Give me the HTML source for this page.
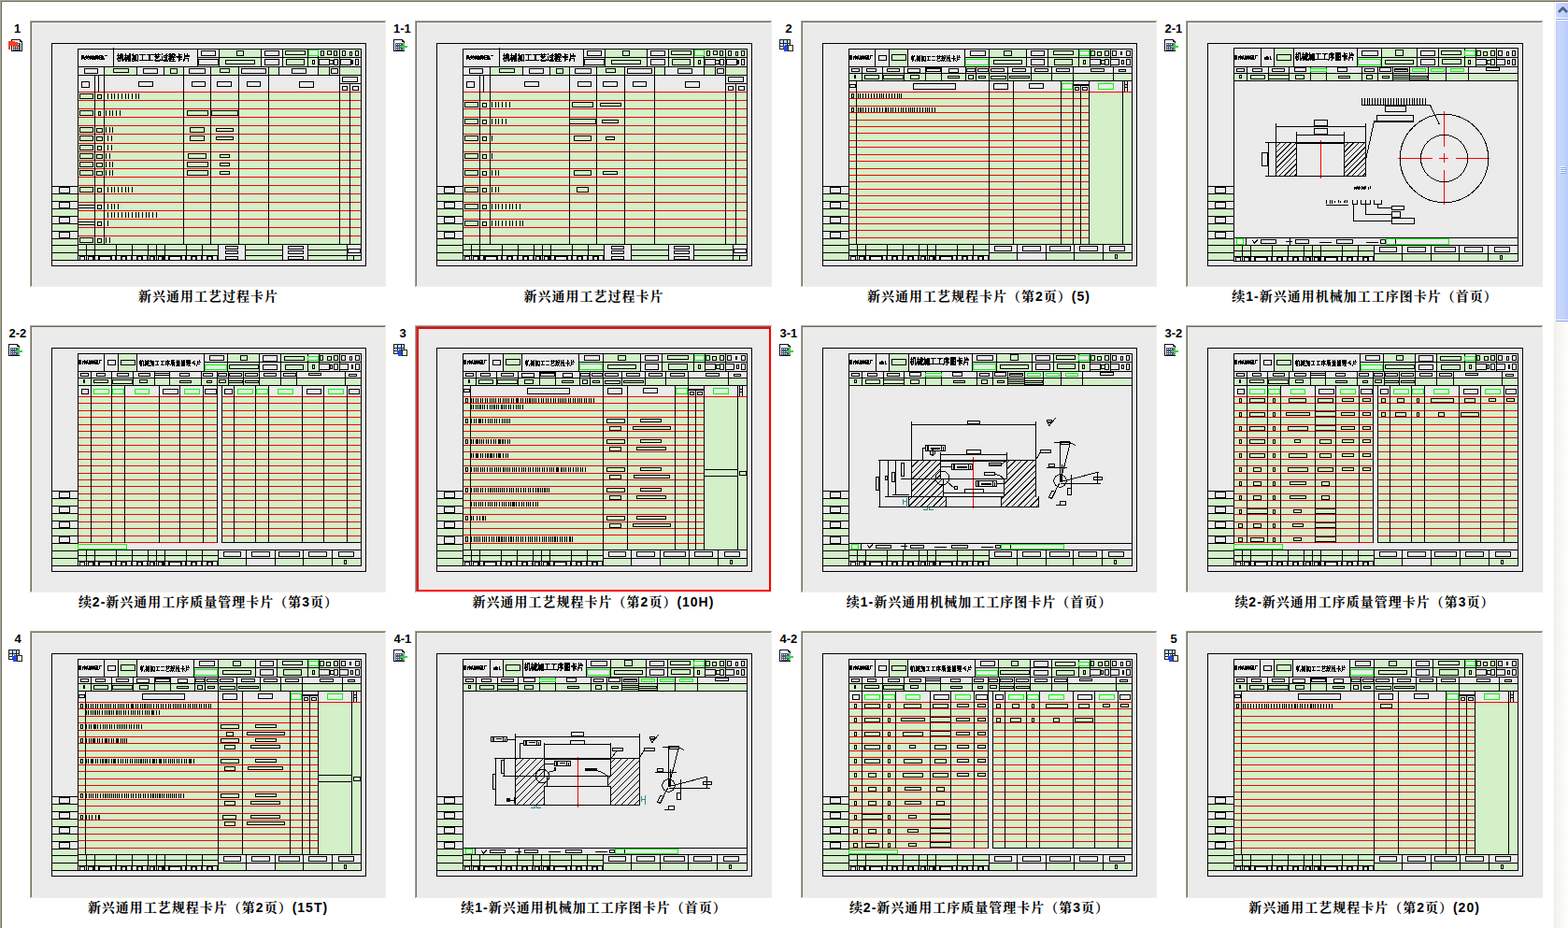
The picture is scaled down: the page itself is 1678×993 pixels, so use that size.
<!DOCTYPE html>
<html><head><meta charset="utf-8"><title>CAPP</title>
<style>
html,body{margin:0;padding:0;background:#fff;overflow:hidden}
svg{display:block}
text{font-family:"Liberation Sans","Noto Serif CJK SC","Noto Sans CJK SC",sans-serif;font-weight:bold;fill:#000;stroke:none}
.lb{font-size:13px;text-anchor:start}
.ca{font-size:14px;letter-spacing:1px;text-anchor:middle}
</style></head><body>
<svg width="1678" height="993" viewBox="0 0 1678 993">
<rect width="1678" height="993" fill="#fff"/>
<rect x="0" y="0" width="1678" height="1" fill="#aca899"/><rect x="0" y="1" width="1678" height="1" fill="#716f64"/>
<rect x="0" y="0" width="1" height="993" fill="#aca899"/><rect x="1" y="1" width="1" height="992" fill="#716f64"/>
<defs><linearGradient id="trk" x1="0" x2="1" y1="0" y2="0"><stop offset="0" stop-color="#f3f1ec"/><stop offset="1" stop-color="#fefefb"/></linearGradient><linearGradient id="thm" x1="0" x2="1" y1="0" y2="0"><stop offset="0" stop-color="#c9d7fb"/><stop offset="0.6" stop-color="#c4d3fb"/><stop offset="1" stop-color="#b3c9fa"/></linearGradient></defs><rect x="1663" y="2" width="15" height="991" fill="url(#trk)"/><rect x="1663" y="2" width="1" height="991" fill="#eeede5"/><rect x="1664" y="2" width="14" height="18" fill="#fff"/><rect x="1665" y="3" width="14" height="16" rx="2" fill="url(#thm)"/><rect x="1665" y="20" width="13" height="1" fill="#7b9fe0"/><path d="M1668 13l4.5 -4.5l4.5 4.5" fill="none" stroke="#4d6185" stroke-width="2.6"/><rect x="1664" y="21" width="14" height="322" fill="#fff"/><rect x="1665" y="22" width="14" height="320" rx="2" fill="url(#thm)"/><rect x="1665" y="22" width="1" height="320" fill="#b7c8f5"/><rect x="1665" y="343" width="13" height="1" fill="#7b9fe0"/><rect x="1669" y="178" width="6" height="1" fill="#f0f5ff"/><rect x="1670" y="179" width="6" height="1" fill="#8caaee"/><rect x="1669" y="180" width="6" height="1" fill="#f0f5ff"/><rect x="1670" y="181" width="6" height="1" fill="#8caaee"/><rect x="1669" y="182" width="6" height="1" fill="#f0f5ff"/><rect x="1670" y="183" width="6" height="1" fill="#8caaee"/><rect x="1669" y="184" width="6" height="1" fill="#f0f5ff"/><rect x="1670" y="185" width="6" height="1" fill="#8caaee"/>
<g shape-rendering="crispEdges">
<path fill="#aca899" d="M32 22h381v1h-381zM32 22h1v285h-1z"/>
<path fill="#716f64" d="M33 23h379v1h-379zM33 23h1v283h-1z"/>
<path fill="#f1efe2" d="M33 306h380v1h-380zM412 23h1v284h-1z"/>
<path fill="#ebebeb" d="M34 24h378v282h-378zM56 200h27v7h-27z"/>
<path fill="#d3f0c9" d="M56 208h27v7h-27z"/>
<path fill="#ebebeb" d="M56 216h27v7h-27z"/>
<path fill="#d3f0c9" d="M56 224h27v7h-27z"/>
<path fill="#ebebeb" d="M56 232h27v7h-27z"/>
<path fill="#d3f0c9" d="M56 240h27v7h-27z"/>
<path fill="#ebebeb" d="M56 248h27v7h-27z"/>
<path fill="#d3f0c9" d="M56 256h27v6h-27zM56 263h27v7h-27zM56 271h27v7h-27zM235 53h44v18h-44zM303 53h26v18h-26zM330 62h10v9h-10zM341 53h22v8h-22zM364 53h22v8h-22z"/>
<path fill="#ebebeb" d="M344 55h2v4h-2zM358 55h2v4h-2zM367 55h2v4h-2zM381 55h2v4h-2z"/>
<path fill="#d3f0c9" d="M353 65h3v3h-3zM112 72h34v8h-34zM176 72h20v8h-20zM226 72h29v8h-29zM288 72h10v8h-10zM341 72h11v8h-11zM364 72h22v8h-22zM84 99h302v162h-302zM84 262h302v16h-302z"/>
<path fill="#ebebeb" d="M234 262h28v16h-28zM303 262h26v16h-26zM372 262h14v11h-14z"/>
<path fill="#000000" d="M375 64h3v5h-3zM84 274h149v4h-149z"/>
<path fill="#f1f1f1" d="M84 274h1v4h-1zM91 274h1v4h-1zM93 274h1v4h-1zM102 274h3v4h-3zM120 274h3v4h-3zM125 274h4v4h-4zM136 274h4v4h-4zM142 274h4v4h-4zM153 274h4v4h-4zM159 274h1v4h-1zM166 274h1v4h-1zM168 274h1v4h-1zM177 274h3v4h-3zM195 274h3v4h-3zM200 274h4v4h-4zM211 274h4v4h-4zM217 274h4v4h-4zM228 274h4v4h-4zM86 275h4v3h-4zM95 275h4v3h-4zM107 275h11v3h-11zM131 275h3v3h-3zM148 275h3v3h-3zM161 275h3v3h-3zM170 275h3v3h-3zM182 275h11v3h-11zM206 275h3v3h-3zM223 275h3v3h-3z"/>
<path fill="#aca899" d="M444 22h382v1h-382zM444 22h1v285h-1z"/>
<path fill="#716f64" d="M445 23h380v1h-380zM445 23h1v283h-1z"/>
<path fill="#f1efe2" d="M445 306h381v1h-381zM825 23h1v284h-1z"/>
<path fill="#ebebeb" d="M446 24h379v282h-379zM468 200h27v7h-27z"/>
<path fill="#d3f0c9" d="M468 208h27v7h-27z"/>
<path fill="#ebebeb" d="M468 216h27v7h-27z"/>
<path fill="#d3f0c9" d="M468 224h27v7h-27z"/>
<path fill="#ebebeb" d="M468 232h27v7h-27z"/>
<path fill="#d3f0c9" d="M468 240h27v7h-27z"/>
<path fill="#ebebeb" d="M468 248h27v7h-27z"/>
<path fill="#d3f0c9" d="M468 256h27v6h-27zM468 263h27v7h-27zM468 271h27v7h-27zM648 53h44v18h-44zM716 53h26v18h-26zM743 62h10v9h-10zM754 53h22v8h-22zM777 53h22v8h-22z"/>
<path fill="#ebebeb" d="M757 55h2v4h-2zM771 55h2v4h-2zM780 55h2v4h-2zM794 55h2v4h-2z"/>
<path fill="#d3f0c9" d="M766 65h3v3h-3zM525 72h34v8h-34zM589 72h20v8h-20zM639 72h29v8h-29zM701 72h10v8h-10zM754 72h11v8h-11zM777 72h22v8h-22zM496 99h303v162h-303zM496 262h303v16h-303z"/>
<path fill="#ebebeb" d="M647 262h28v16h-28zM716 262h26v16h-26zM785 262h14v11h-14z"/>
<path fill="#000000" d="M788 64h3v5h-3zM496 274h150v4h-150z"/>
<path fill="#f1f1f1" d="M496 274h1v4h-1zM503 274h1v4h-1zM505 274h1v4h-1zM514 274h3v4h-3zM533 274h3v4h-3zM538 274h4v4h-4zM549 274h4v4h-4zM555 274h4v4h-4zM566 274h4v4h-4zM572 274h1v4h-1zM579 274h1v4h-1zM581 274h1v4h-1zM590 274h3v4h-3zM608 274h3v4h-3zM613 274h4v4h-4zM624 274h4v4h-4zM630 274h4v4h-4zM641 274h4v4h-4zM498 275h4v3h-4zM507 275h4v3h-4zM520 275h11v3h-11zM544 275h3v3h-3zM561 275h3v3h-3zM574 275h3v3h-3zM583 275h3v3h-3zM595 275h11v3h-11zM619 275h3v3h-3zM636 275h3v3h-3z"/>
<path fill="#aca899" d="M857 22h381v1h-381zM857 22h1v285h-1z"/>
<path fill="#716f64" d="M858 23h379v1h-379zM858 23h1v283h-1z"/>
<path fill="#f1efe2" d="M858 306h380v1h-380zM1237 23h1v284h-1z"/>
<path fill="#ebebeb" d="M859 24h378v282h-378zM881 200h27v7h-27z"/>
<path fill="#d3f0c9" d="M881 208h27v7h-27z"/>
<path fill="#ebebeb" d="M881 216h27v7h-27z"/>
<path fill="#d3f0c9" d="M881 224h27v7h-27z"/>
<path fill="#ebebeb" d="M881 232h27v7h-27z"/>
<path fill="#d3f0c9" d="M881 240h27v7h-27z"/>
<path fill="#ebebeb" d="M881 248h27v7h-27z"/>
<path fill="#d3f0c9" d="M881 256h27v6h-27zM881 263h27v7h-27zM881 271h27v7h-27zM952 53h19v18h-19zM1059 53h39v18h-39zM1122 53h32v18h-32zM1155 62h11v9h-11zM1167 53h21v8h-21zM1178 62h5v9h-5zM909 79h302v7h-302zM909 99h302v162h-302zM909 262h149v11h-149zM1059 271h152v7h-152z"/>
<path fill="#ebebeb" d="M1089 271h30v7h-30z"/>
<path fill="#000000" d="M1149 90h16v2h-16zM909 274h149v4h-149z"/>
<path fill="#f1f1f1" d="M909 274h1v4h-1zM916 274h1v4h-1zM918 274h1v4h-1zM927 274h3v4h-3zM945 274h3v4h-3zM950 274h4v4h-4zM961 274h4v4h-4zM967 274h4v4h-4zM978 274h4v4h-4zM984 274h1v4h-1zM991 274h1v4h-1zM993 274h1v4h-1zM1002 274h3v4h-3zM1020 274h3v4h-3zM1025 274h4v4h-4zM1036 274h4v4h-4zM1042 274h4v4h-4zM1053 274h4v4h-4zM911 275h4v3h-4zM920 275h4v3h-4zM932 275h11v3h-11zM956 275h3v3h-3zM973 275h3v3h-3zM986 275h3v3h-3zM995 275h3v3h-3zM1007 275h11v3h-11zM1031 275h3v3h-3zM1048 275h3v3h-3z"/>
<path fill="#aca899" d="M1269 22h382v1h-382zM1269 22h1v285h-1z"/>
<path fill="#716f64" d="M1270 23h380v1h-380zM1270 23h1v283h-1z"/>
<path fill="#f1efe2" d="M1270 306h381v1h-381zM1650 23h1v284h-1z"/>
<path fill="#ebebeb" d="M1271 24h379v282h-379zM1293 200h27v7h-27z"/>
<path fill="#d3f0c9" d="M1293 208h27v7h-27z"/>
<path fill="#ebebeb" d="M1293 216h27v7h-27z"/>
<path fill="#d3f0c9" d="M1293 224h27v7h-27z"/>
<path fill="#ebebeb" d="M1293 232h27v7h-27z"/>
<path fill="#d3f0c9" d="M1293 240h27v7h-27z"/>
<path fill="#ebebeb" d="M1293 248h27v7h-27z"/>
<path fill="#d3f0c9" d="M1293 256h27v6h-27zM1293 263h27v7h-27zM1293 271h27v7h-27zM1364 52h20v19h-20zM1479 52h37v19h-37zM1540 52h27v19h-27zM1568 62h11v9h-11zM1580 52h21v9h-21zM1591 62h5v9h-5zM1321 79h303v7h-303zM1321 263h149v11h-149zM1471 272h152v7h-152z"/>
<path fill="#000000" d="M1321 275h149v4h-149z"/>
<path fill="#f1f1f1" d="M1321 275h1v4h-1zM1328 275h1v4h-1zM1330 275h1v4h-1zM1339 275h3v4h-3zM1357 275h3v4h-3zM1362 275h4v4h-4zM1373 275h4v4h-4zM1379 275h4v4h-4zM1390 275h4v4h-4zM1396 275h1v4h-1zM1403 275h1v4h-1zM1405 275h1v4h-1zM1414 275h3v4h-3zM1432 275h3v4h-3zM1437 275h4v4h-4zM1448 275h4v4h-4zM1454 275h4v4h-4zM1465 275h4v4h-4zM1323 276h4v3h-4zM1332 276h4v3h-4zM1344 276h11v3h-11zM1368 276h3v3h-3zM1385 276h3v3h-3zM1398 276h3v3h-3zM1407 276h3v3h-3zM1419 276h11v3h-11zM1443 276h3v3h-3zM1460 276h3v3h-3z"/>
<path fill="#aca899" d="M32 348h381v1h-381zM32 348h1v286h-1z"/>
<path fill="#716f64" d="M33 349h379v1h-379zM33 349h1v284h-1z"/>
<path fill="#f1efe2" d="M33 633h380v1h-380zM412 349h1v285h-1z"/>
<path fill="#ebebeb" d="M34 350h378v283h-378zM56 526h27v7h-27z"/>
<path fill="#d3f0c9" d="M56 534h27v7h-27z"/>
<path fill="#ebebeb" d="M56 542h27v7h-27z"/>
<path fill="#d3f0c9" d="M56 550h27v7h-27z"/>
<path fill="#ebebeb" d="M56 558h27v7h-27z"/>
<path fill="#d3f0c9" d="M56 566h27v7h-27z"/>
<path fill="#ebebeb" d="M56 574h27v7h-27z"/>
<path fill="#d3f0c9" d="M56 582h27v7h-27zM56 590h27v7h-27zM56 598h27v7h-27zM127 379h19v18h-19zM244 379h33v18h-33zM301 379h28v18h-28zM330 388h11v9h-11zM342 379h21v8h-21zM84 405h302v7h-302zM84 425h148v155h-148zM238 425h148v155h-148z"/>
<path fill="#f6f6f6" d="M233 413h4v167h-4z"/>
<path fill="#d3f0c9" d="M84 589h149v11h-149zM234 598h152v7h-152z"/>
<path fill="#ebebeb" d="M264 598h30v7h-30z"/>
<path fill="#000000" d="M84 601h149v4h-149z"/>
<path fill="#f1f1f1" d="M84 601h1v4h-1zM91 601h1v4h-1zM93 601h1v4h-1zM102 601h3v4h-3zM120 601h3v4h-3zM125 601h4v4h-4zM136 601h4v4h-4zM142 601h4v4h-4zM153 601h4v4h-4zM159 601h1v4h-1zM166 601h1v4h-1zM168 601h1v4h-1zM177 601h3v4h-3zM195 601h3v4h-3zM200 601h4v4h-4zM211 601h4v4h-4zM217 601h4v4h-4zM228 601h4v4h-4zM86 602h4v3h-4zM95 602h4v3h-4zM107 602h11v3h-11zM131 602h3v3h-3zM148 602h3v3h-3zM161 602h3v3h-3zM170 602h3v3h-3zM182 602h11v3h-11zM206 602h3v3h-3zM223 602h3v3h-3z"/>
<path fill="#aca899" d="M444 348h382v1h-382zM444 348h1v286h-1z"/>
<path fill="#716f64" d="M445 349h380v1h-380zM445 349h1v284h-1z"/>
<path fill="#f1efe2" d="M445 633h381v1h-381zM825 349h1v285h-1z"/>
<path fill="#ebebeb" d="M446 350h379v283h-379z"/>
<path fill="#ff0000" d="M446 350h379v2h-379zM446 631h379v2h-379zM446 350h2v283h-2zM823 350h2v283h-2z"/>
<path fill="#ebebeb" d="M468 526h27v7h-27z"/>
<path fill="#d3f0c9" d="M468 534h27v7h-27z"/>
<path fill="#ebebeb" d="M468 542h27v7h-27z"/>
<path fill="#d3f0c9" d="M468 550h27v7h-27z"/>
<path fill="#ebebeb" d="M468 558h27v7h-27z"/>
<path fill="#d3f0c9" d="M468 566h27v7h-27z"/>
<path fill="#ebebeb" d="M468 574h27v8h-27z"/>
<path fill="#d3f0c9" d="M468 583h27v6h-27zM468 590h27v7h-27zM468 598h27v7h-27zM539 379h19v18h-19zM646 379h39v18h-39zM709 379h33v18h-33zM743 388h11v9h-11zM755 379h21v8h-21zM766 388h5v9h-5zM496 405h303v7h-303zM496 425h303v163h-303zM496 589h149v11h-149zM646 598h153v7h-153z"/>
<path fill="#ebebeb" d="M676 598h30v7h-30z"/>
<path fill="#000000" d="M737 416h16v2h-16zM496 601h149v4h-149z"/>
<path fill="#f1f1f1" d="M496 601h1v4h-1zM503 601h1v4h-1zM505 601h1v4h-1zM514 601h3v4h-3zM532 601h3v4h-3zM537 601h4v4h-4zM548 601h4v4h-4zM554 601h4v4h-4zM565 601h4v4h-4zM571 601h1v4h-1zM578 601h1v4h-1zM580 601h1v4h-1zM589 601h3v4h-3zM607 601h3v4h-3zM612 601h4v4h-4zM623 601h4v4h-4zM629 601h4v4h-4zM640 601h4v4h-4zM498 602h4v3h-4zM507 602h4v3h-4zM519 602h11v3h-11zM543 602h3v3h-3zM560 602h3v3h-3zM573 602h3v3h-3zM582 602h3v3h-3zM594 602h11v3h-11zM618 602h3v3h-3zM635 602h3v3h-3z"/>
<path fill="#aca899" d="M857 348h381v1h-381zM857 348h1v286h-1z"/>
<path fill="#716f64" d="M858 349h379v1h-379zM858 349h1v284h-1z"/>
<path fill="#f1efe2" d="M858 633h380v1h-380zM1237 349h1v285h-1z"/>
<path fill="#ebebeb" d="M859 350h378v283h-378zM881 526h27v7h-27z"/>
<path fill="#d3f0c9" d="M881 534h27v7h-27z"/>
<path fill="#ebebeb" d="M881 542h27v7h-27z"/>
<path fill="#d3f0c9" d="M881 550h27v7h-27z"/>
<path fill="#ebebeb" d="M881 558h27v7h-27z"/>
<path fill="#d3f0c9" d="M881 566h27v7h-27z"/>
<path fill="#ebebeb" d="M881 574h27v8h-27z"/>
<path fill="#d3f0c9" d="M881 583h27v6h-27zM881 590h27v7h-27zM881 598h27v7h-27zM952 379h20v18h-20zM1067 379h37v18h-37zM1128 379h26v18h-26zM1155 388h11v9h-11zM1167 379h21v8h-21zM1178 388h5v9h-5zM909 405h302v7h-302zM909 589h149v11h-149zM1059 598h151v7h-151z"/>
<path fill="#000000" d="M909 601h149v4h-149z"/>
<path fill="#f1f1f1" d="M909 601h1v4h-1zM916 601h1v4h-1zM918 601h1v4h-1zM927 601h3v4h-3zM945 601h3v4h-3zM950 601h4v4h-4zM961 601h4v4h-4zM967 601h4v4h-4zM978 601h4v4h-4zM984 601h1v4h-1zM991 601h1v4h-1zM993 601h1v4h-1zM1002 601h3v4h-3zM1020 601h3v4h-3zM1025 601h4v4h-4zM1036 601h4v4h-4zM1042 601h4v4h-4zM1053 601h4v4h-4zM911 602h4v3h-4zM920 602h4v3h-4zM932 602h11v3h-11zM956 602h3v3h-3zM973 602h3v3h-3zM986 602h3v3h-3zM995 602h3v3h-3zM1007 602h11v3h-11zM1031 602h3v3h-3zM1048 602h3v3h-3z"/>
<path fill="#aca899" d="M1269 348h382v1h-382zM1269 348h1v286h-1z"/>
<path fill="#716f64" d="M1270 349h380v1h-380zM1270 349h1v284h-1z"/>
<path fill="#f1efe2" d="M1270 633h381v1h-381zM1650 349h1v285h-1z"/>
<path fill="#ebebeb" d="M1271 350h379v283h-379zM1293 526h27v7h-27z"/>
<path fill="#d3f0c9" d="M1293 534h27v7h-27z"/>
<path fill="#ebebeb" d="M1293 542h27v7h-27z"/>
<path fill="#d3f0c9" d="M1293 550h27v7h-27z"/>
<path fill="#ebebeb" d="M1293 558h27v7h-27z"/>
<path fill="#d3f0c9" d="M1293 566h27v7h-27z"/>
<path fill="#ebebeb" d="M1293 574h27v7h-27z"/>
<path fill="#d3f0c9" d="M1293 582h27v7h-27zM1293 590h27v7h-27zM1293 598h27v7h-27zM1364 379h19v18h-19zM1481 379h33v18h-33zM1538 379h29v18h-29zM1568 388h11v9h-11zM1580 379h21v8h-21zM1321 405h303v7h-303zM1321 425h148v155h-148zM1475 425h149v155h-149z"/>
<path fill="#f6f6f6" d="M1470 413h4v167h-4z"/>
<path fill="#d3f0c9" d="M1321 589h149v11h-149zM1471 598h153v7h-153z"/>
<path fill="#ebebeb" d="M1501 598h30v7h-30z"/>
<path fill="#000000" d="M1321 601h149v4h-149z"/>
<path fill="#f1f1f1" d="M1321 601h1v4h-1zM1328 601h1v4h-1zM1330 601h1v4h-1zM1339 601h3v4h-3zM1357 601h3v4h-3zM1362 601h4v4h-4zM1373 601h4v4h-4zM1379 601h4v4h-4zM1390 601h4v4h-4zM1396 601h1v4h-1zM1403 601h1v4h-1zM1405 601h1v4h-1zM1414 601h3v4h-3zM1432 601h3v4h-3zM1437 601h4v4h-4zM1448 601h4v4h-4zM1454 601h4v4h-4zM1465 601h4v4h-4zM1323 602h4v3h-4zM1332 602h4v3h-4zM1344 602h11v3h-11zM1368 602h3v3h-3zM1385 602h3v3h-3zM1398 602h3v3h-3zM1407 602h3v3h-3zM1419 602h11v3h-11zM1443 602h3v3h-3zM1460 602h3v3h-3z"/>
<path fill="#aca899" d="M32 675h381v1h-381zM32 675h1v286h-1z"/>
<path fill="#716f64" d="M33 676h379v1h-379zM33 676h1v284h-1z"/>
<path fill="#f1efe2" d="M33 960h380v1h-380zM412 676h1v285h-1z"/>
<path fill="#ebebeb" d="M34 677h378v283h-378zM56 853h27v7h-27z"/>
<path fill="#d3f0c9" d="M56 861h27v7h-27z"/>
<path fill="#ebebeb" d="M56 869h27v7h-27z"/>
<path fill="#d3f0c9" d="M56 877h27v7h-27z"/>
<path fill="#ebebeb" d="M56 885h27v7h-27z"/>
<path fill="#d3f0c9" d="M56 893h27v7h-27z"/>
<path fill="#ebebeb" d="M56 901h27v7h-27z"/>
<path fill="#d3f0c9" d="M56 909h27v6h-27zM56 916h27v7h-27zM56 924h27v7h-27zM127 706h19v18h-19zM234 706h39v18h-39zM297 706h32v18h-32zM330 715h11v9h-11zM342 706h21v8h-21zM353 715h5v9h-5zM84 732h302v7h-302zM84 752h302v162h-302zM84 915h149v11h-149zM234 924h152v7h-152z"/>
<path fill="#ebebeb" d="M264 924h30v7h-30z"/>
<path fill="#000000" d="M324 743h16v2h-16zM84 927h149v4h-149z"/>
<path fill="#f1f1f1" d="M84 927h1v4h-1zM91 927h1v4h-1zM93 927h1v4h-1zM102 927h3v4h-3zM120 927h3v4h-3zM125 927h4v4h-4zM136 927h4v4h-4zM142 927h4v4h-4zM153 927h4v4h-4zM159 927h1v4h-1zM166 927h1v4h-1zM168 927h1v4h-1zM177 927h3v4h-3zM195 927h3v4h-3zM200 927h4v4h-4zM211 927h4v4h-4zM217 927h4v4h-4zM228 927h4v4h-4zM86 928h4v3h-4zM95 928h4v3h-4zM107 928h11v3h-11zM131 928h3v3h-3zM148 928h3v3h-3zM161 928h3v3h-3zM170 928h3v3h-3zM182 928h11v3h-11zM206 928h3v3h-3zM223 928h3v3h-3z"/>
<path fill="#aca899" d="M444 675h382v1h-382zM444 675h1v286h-1z"/>
<path fill="#716f64" d="M445 676h380v1h-380zM445 676h1v284h-1z"/>
<path fill="#f1efe2" d="M445 960h381v1h-381zM825 676h1v285h-1z"/>
<path fill="#ebebeb" d="M446 677h379v283h-379zM468 853h27v7h-27z"/>
<path fill="#d3f0c9" d="M468 861h27v7h-27z"/>
<path fill="#ebebeb" d="M468 869h27v7h-27z"/>
<path fill="#d3f0c9" d="M468 877h27v7h-27z"/>
<path fill="#ebebeb" d="M468 885h27v7h-27z"/>
<path fill="#d3f0c9" d="M468 893h27v7h-27z"/>
<path fill="#ebebeb" d="M468 901h27v7h-27z"/>
<path fill="#d3f0c9" d="M468 909h27v6h-27zM468 916h27v7h-27zM468 924h27v7h-27zM539 706h20v18h-20zM654 706h37v18h-37zM715 706h27v18h-27zM743 715h11v9h-11zM755 706h21v8h-21zM766 715h5v9h-5zM496 732h303v7h-303zM496 915h149v11h-149zM646 924h152v7h-152z"/>
<path fill="#000000" d="M496 927h149v4h-149z"/>
<path fill="#f1f1f1" d="M496 927h1v4h-1zM503 927h1v4h-1zM505 927h1v4h-1zM514 927h3v4h-3zM532 927h3v4h-3zM537 927h4v4h-4zM548 927h4v4h-4zM554 927h4v4h-4zM565 927h4v4h-4zM571 927h1v4h-1zM578 927h1v4h-1zM580 927h1v4h-1zM589 927h3v4h-3zM607 927h3v4h-3zM612 927h4v4h-4zM623 927h4v4h-4zM629 927h4v4h-4zM640 927h4v4h-4zM498 928h4v3h-4zM507 928h4v3h-4zM519 928h11v3h-11zM543 928h3v3h-3zM560 928h3v3h-3zM573 928h3v3h-3zM582 928h3v3h-3zM594 928h11v3h-11zM618 928h3v3h-3zM635 928h3v3h-3z"/>
<path fill="#aca899" d="M857 675h381v1h-381zM857 675h1v286h-1z"/>
<path fill="#716f64" d="M858 676h379v1h-379zM858 676h1v284h-1z"/>
<path fill="#f1efe2" d="M858 960h380v1h-380zM1237 676h1v285h-1z"/>
<path fill="#ebebeb" d="M859 677h378v283h-378zM881 853h27v7h-27z"/>
<path fill="#d3f0c9" d="M881 861h27v7h-27z"/>
<path fill="#ebebeb" d="M881 869h27v7h-27z"/>
<path fill="#d3f0c9" d="M881 877h27v7h-27z"/>
<path fill="#ebebeb" d="M881 885h27v7h-27z"/>
<path fill="#d3f0c9" d="M881 893h27v7h-27z"/>
<path fill="#ebebeb" d="M881 901h27v7h-27z"/>
<path fill="#d3f0c9" d="M881 909h27v6h-27zM881 916h27v7h-27zM881 924h27v7h-27zM952 706h19v18h-19zM1069 706h33v18h-33zM1126 706h28v18h-28zM1155 715h11v9h-11zM1167 706h21v8h-21zM909 732h302v7h-302zM909 752h148v155h-148zM1063 752h148v155h-148z"/>
<path fill="#f6f6f6" d="M1058 740h4v167h-4z"/>
<path fill="#d3f0c9" d="M909 915h149v11h-149zM1059 924h152v7h-152z"/>
<path fill="#ebebeb" d="M1089 924h30v7h-30z"/>
<path fill="#000000" d="M909 927h149v4h-149z"/>
<path fill="#f1f1f1" d="M909 927h1v4h-1zM916 927h1v4h-1zM918 927h1v4h-1zM927 927h3v4h-3zM945 927h3v4h-3zM950 927h4v4h-4zM961 927h4v4h-4zM967 927h4v4h-4zM978 927h4v4h-4zM984 927h1v4h-1zM991 927h1v4h-1zM993 927h1v4h-1zM1002 927h3v4h-3zM1020 927h3v4h-3zM1025 927h4v4h-4zM1036 927h4v4h-4zM1042 927h4v4h-4zM1053 927h4v4h-4zM911 928h4v3h-4zM920 928h4v3h-4zM932 928h11v3h-11zM956 928h3v3h-3zM973 928h3v3h-3zM986 928h3v3h-3zM995 928h3v3h-3zM1007 928h11v3h-11zM1031 928h3v3h-3zM1048 928h3v3h-3z"/>
<path fill="#aca899" d="M1269 675h382v1h-382zM1269 675h1v286h-1z"/>
<path fill="#716f64" d="M1270 676h380v1h-380zM1270 676h1v284h-1z"/>
<path fill="#f1efe2" d="M1270 960h381v1h-381zM1650 676h1v285h-1z"/>
<path fill="#ebebeb" d="M1271 677h379v283h-379zM1293 853h27v7h-27z"/>
<path fill="#d3f0c9" d="M1293 861h27v7h-27z"/>
<path fill="#ebebeb" d="M1293 869h27v7h-27z"/>
<path fill="#d3f0c9" d="M1293 877h27v7h-27z"/>
<path fill="#ebebeb" d="M1293 885h27v7h-27z"/>
<path fill="#d3f0c9" d="M1293 893h27v7h-27z"/>
<path fill="#ebebeb" d="M1293 901h27v7h-27z"/>
<path fill="#d3f0c9" d="M1293 909h27v6h-27zM1293 916h27v7h-27zM1293 924h27v7h-27zM1364 706h19v18h-19zM1471 706h39v18h-39zM1534 706h33v18h-33zM1568 715h11v9h-11zM1580 706h21v8h-21zM1591 715h5v9h-5zM1321 732h303v7h-303zM1321 752h303v162h-303zM1321 915h149v11h-149zM1471 924h153v7h-153z"/>
<path fill="#ebebeb" d="M1501 924h30v7h-30z"/>
<path fill="#000000" d="M1562 743h16v2h-16zM1321 927h149v4h-149z"/>
<path fill="#f1f1f1" d="M1321 927h1v4h-1zM1328 927h1v4h-1zM1330 927h1v4h-1zM1339 927h3v4h-3zM1357 927h3v4h-3zM1362 927h4v4h-4zM1373 927h4v4h-4zM1379 927h4v4h-4zM1390 927h4v4h-4zM1396 927h1v4h-1zM1403 927h1v4h-1zM1405 927h1v4h-1zM1414 927h3v4h-3zM1432 927h3v4h-3zM1437 927h4v4h-4zM1448 927h4v4h-4zM1454 927h4v4h-4zM1465 927h4v4h-4zM1323 928h4v3h-4zM1332 928h4v3h-4zM1344 928h11v3h-11zM1368 928h3v3h-3zM1385 928h3v3h-3zM1398 928h3v3h-3zM1407 928h3v3h-3zM1419 928h11v3h-11zM1443 928h3v3h-3zM1460 928h3v3h-3z"/>
<path fill="none" stroke="#ff0000" stroke-width="1" d="M83 98.5h304M83 107.5h304M83 116.5h304M83 125.5h304M83 134.5h304M83 143.5h304M83 153.5h304M83 162.5h304M83 171.5h304M83 180.5h304M83 189.5h304M83 198.5h304M83 207.5h304M83 216.5h304M83 225.5h304M83 234.5h304M83 243.5h304M83 252.5h304M495 98.5h305M495 107.5h305M495 116.5h305M495 125.5h305M495 134.5h305M495 143.5h305M495 153.5h305M495 162.5h305M495 171.5h305M495 180.5h305M495 189.5h305M495 198.5h305M495 207.5h305M495 216.5h305M495 225.5h305M495 234.5h305M495 243.5h305M495 252.5h305M908 98.5h304M908 105.5h258M908 113.5h258M908 120.5h258M908 128.5h258M908 135.5h258M908 142.5h258M908 150.5h258M908 157.5h258M908 165.5h258M908 172.5h258M908 180.5h258M908 187.5h258M908 194.5h258M908 202.5h258M908 209.5h258M908 217.5h258M908 224.5h258M908 232.5h258M908 239.5h258M908 246.5h258M908 254.5h258M1413.5 150v41M1496 169.5h37M1540 169.5h10M1558 169.5h36M1545.5 119v38M1545.5 164v10M1545.5 182v37M83 424.5h150M237 424.5h150M83 431.5h150M237 431.5h150M83 439.5h150M237 439.5h150M83 446.5h150M237 446.5h150M83 454.5h150M237 454.5h150M83 461.5h150M237 461.5h150M83 468.5h150M237 468.5h150M83 476.5h150M237 476.5h150M83 483.5h150M237 483.5h150M83 491.5h150M237 491.5h150M83 498.5h150M237 498.5h150M83 506.5h150M237 506.5h150M83 513.5h150M237 513.5h150M83 520.5h150M237 520.5h150M83 528.5h150M237 528.5h150M83 535.5h150M237 535.5h150M83 543.5h150M237 543.5h150M83 550.5h150M237 550.5h150M83 558.5h150M237 558.5h150M83 565.5h150M237 565.5h150M83 573.5h150M237 573.5h150M83 580.5h150M495 424.5h305M495 431.5h259M495 439.5h259M495 446.5h259M495 454.5h259M495 461.5h259M495 468.5h259M495 476.5h259M495 483.5h259M495 491.5h259M495 498.5h259M495 506.5h259M495 513.5h259M495 520.5h259M495 528.5h259M495 535.5h259M495 543.5h259M495 550.5h259M495 558.5h259M495 565.5h259M495 572.5h259M495 581.5h259M1041.5 489v55M1320 424.5h150M1474 424.5h151M1320 431.5h150M1474 431.5h151M1320 439.5h150M1474 439.5h151M1320 446.5h150M1474 446.5h151M1320 454.5h150M1474 454.5h151M1320 461.5h150M1474 461.5h151M1320 468.5h150M1474 468.5h151M1320 476.5h150M1474 476.5h151M1320 483.5h150M1474 483.5h151M1320 491.5h150M1474 491.5h151M1320 498.5h150M1474 498.5h151M1320 506.5h150M1474 506.5h151M1320 513.5h150M1474 513.5h151M1320 520.5h150M1474 520.5h151M1320 528.5h150M1474 528.5h151M1320 535.5h150M1474 535.5h151M1320 543.5h150M1474 543.5h151M1320 550.5h150M1474 550.5h151M1320 558.5h150M1474 558.5h151M1320 565.5h150M1474 565.5h151M1320 573.5h150M1474 573.5h151M1320 580.5h150M83 751.5h304M83 758.5h258M83 766.5h258M83 773.5h258M83 781.5h258M83 788.5h258M83 795.5h258M83 803.5h258M83 810.5h258M83 818.5h258M83 825.5h258M83 833.5h258M83 840.5h258M83 847.5h258M83 855.5h258M83 862.5h258M83 870.5h258M83 877.5h258M83 885.5h258M83 892.5h258M83 899.5h258M83 907.5h258M618.5 810v54M908 751.5h150M1062 751.5h150M908 758.5h150M1062 758.5h150M908 766.5h150M1062 766.5h150M908 773.5h150M1062 773.5h150M908 781.5h150M1062 781.5h150M908 788.5h150M1062 788.5h150M908 795.5h150M1062 795.5h150M908 803.5h150M1062 803.5h150M908 810.5h150M1062 810.5h150M908 818.5h150M1062 818.5h150M908 825.5h150M1062 825.5h150M908 833.5h150M1062 833.5h150M908 840.5h150M1062 840.5h150M908 847.5h150M1062 847.5h150M908 855.5h150M1062 855.5h150M908 862.5h150M1062 862.5h150M908 870.5h150M1062 870.5h150M908 877.5h150M1062 877.5h150M908 885.5h150M1062 885.5h150M908 892.5h150M1062 892.5h150M908 900.5h150M1062 900.5h150M908 907.5h150M1320 751.5h305M1320 758.5h259M1320 766.5h259M1320 773.5h259M1320 781.5h259M1320 788.5h259M1320 795.5h259M1320 803.5h259M1320 810.5h259M1320 818.5h259M1320 825.5h259M1320 833.5h259M1320 840.5h259M1320 847.5h259M1320 855.5h259M1320 862.5h259M1320 870.5h259M1320 877.5h259M1320 885.5h259M1320 892.5h259M1320 899.5h259M1320 907.5h259"/>
<path fill="none" stroke="#000000" stroke-width="1" d="M55.5 46.5h336v238h-336zM63.5 200.5h11v6h-11zM63.5 216.5h11v6h-11zM63.5 232.5h11v6h-11zM63.5 248.5h11v6h-11zM55 199.5h29M55 207.5h29M55 215.5h29M55 223.5h29M55 231.5h29M55 239.5h29M55 247.5h29M55 255.5h29M55 262.5h29M55 270.5h29M55 278.5h29M83.5 52.5h303v226h-303zM121.5 51v21M83 71.5h304M83 80.5h304M83 261.5h304M211 61.5h176M211.5 52v20M234.5 52v20M279.5 52v20M302.5 52v20M329.5 52v20M340.5 52v20M363.5 52v20M111.5 71v10M146.5 71v10M175.5 71v10M196.5 71v10M225.5 71v10M255.5 71v10M287.5 71v10M298.5 71v10M340.5 71v10M352.5 71v10M363.5 71v10M101.5 80v182M111.5 80v182M196.5 80v182M225.5 80v182M255.5 80v182M287.5 80v182M363.5 80v182M105.5 80v19M363 89.5h24M374.5 89v173M87.5 87.5h8v6h-8zM148.5 87.5h15v5h-15zM205.5 87.5h14v5h-14zM232.5 87.5h15v5h-15zM264.5 87.5h14v5h-14zM320.5 87.5h15v6h-15zM366.5 82.5h16v5h-16zM366.5 92.5h5v4h-5zM377.5 92.5h6v4h-6zM90.5 73.5h14v5h-14zM121.5 73.5h16v4h-16zM153.5 73.5h15v5h-15zM182.5 73.5h7v5h-7zM202.5 73.5h17v5h-17zM235.5 73.5h10v4h-10zM258.5 73.5h26v5h-26zM312.5 73.5h15v5h-15zM354.5 73.5h7v5h-7zM215.5 54.5h15v5h-15zM212.5 63.5h21v6h-21zM253.5 54.5h7v5h-7zM241.5 64.5h31v4h-31zM283.5 54.5h15v5h-15zM283.5 63.5h15v6h-15zM305.5 54.5h21v4h-21zM306.5 63.5h19v6h-19zM334.5 64.5h2v4h-2zM343.5 54.5h3v5h-3zM350.5 54.5h4v4h-4zM357.5 54.5h3v5h-3zM341.5 63.5h11v6h-11zM357.5 63.5h4v6h-4zM352.5 64.5h4v4h-4zM366.5 54.5h3v5h-3zM374.5 55.5h2v4h-2zM380.5 54.5h3v5h-3zM364.5 63.5h11v6h-11zM380.5 63.5h3v6h-3zM87 59.5h3M92 59.5h1M94 59.5h1M97 59.5h1M99 59.5h1M102 59.5h3M106 59.5h4M112 59.5h3M87 60.5h3M91 60.5h16M108 60.5h3M87 61.5h24M87 62.5h4M92 62.5h2M95 62.5h12M108 62.5h4M87 63.5h1M90 63.5h2M94 63.5h1M96 63.5h1M98 63.5h5M104 63.5h1M106 63.5h6M126 57.5h1M129 57.5h2M134 57.5h1M138 57.5h2M142 57.5h1M166 57.5h1M169 57.5h1M173 57.5h1M178 57.5h1M181 57.5h2M184 57.5h3M191 57.5h1M197 57.5h1M200 57.5h1M126 58.5h1M128 58.5h4M134 58.5h1M138 58.5h2M141 58.5h2M145 58.5h3M149 58.5h7M157 58.5h15M173 58.5h1M177 58.5h2M180 58.5h8M191 58.5h4M197 58.5h1M200 58.5h1M125 59.5h7M133 59.5h7M141 59.5h5M147 59.5h1M152 59.5h1M159 59.5h2M166 59.5h2M169 59.5h1M175 59.5h5M181 59.5h4M186 59.5h2M191 59.5h2M197 59.5h6M126 60.5h1M128 60.5h4M134 60.5h1M136 60.5h4M142 60.5h4M147 60.5h1M152 60.5h1M159 60.5h2M165 60.5h6M173 60.5h1M175 60.5h1M177 60.5h2M180 60.5h7M188 60.5h7M197 60.5h6M126 61.5h6M133 61.5h7M142 61.5h4M147 61.5h1M152 61.5h1M159 61.5h2M166 61.5h4M173 61.5h1M175 61.5h4M181 61.5h7M189 61.5h6M197 61.5h1M125 62.5h7M133 62.5h7M141 62.5h5M147 62.5h1M152 62.5h1M159 62.5h2M167 62.5h2M173 62.5h1M177 62.5h2M180 62.5h4M185 62.5h1M191 62.5h2M197 62.5h5M125 63.5h2M128 63.5h1M130 63.5h10M141 63.5h5M147 63.5h1M152 63.5h1M159 63.5h2M166 63.5h1M171 63.5h1M173 63.5h1M176 63.5h3M180 63.5h7M191 63.5h4M196 63.5h2M201 63.5h1M126 64.5h1M128 64.5h1M130 64.5h3M134 64.5h2M137 64.5h3M141 64.5h1M143 64.5h5M149 64.5h15M165 64.5h15M181 64.5h2M185 64.5h1M191 64.5h2M196 64.5h2M201 64.5h1M126 65.5h3M131 65.5h1M134 65.5h2M137 65.5h3M141 65.5h3M145 65.5h1M147 65.5h1M166 65.5h5M175 65.5h5M181 65.5h7M191 65.5h1M196 65.5h1M201 65.5h1M85.5 100.5h14v5h-14zM104.5 101.5h4v4h-4zM115.5 100v6M119.5 100v6M122.5 100v6M126.5 100v6M130.5 100v6M134.5 100v6M137.5 100v6M141.5 100v6M145.5 100v6M148.5 100v6M85.5 118.5h14v5h-14zM105.5 119.5h2v4h-2zM113.5 118v6M117.5 118v6M120.5 118v6M124.5 118v6M128.5 118v6M200.5 118.5h22v5h-22zM226.5 118.5h28v5h-28zM85.5 136.5h14v5h-14zM103.5 137.5h6v4h-6zM113.5 136v6M117.5 136v6M120.5 136v6M203.5 136.5h15v5h-15zM231.5 137.5h18v3h-18zM85.5 145.5h14v5h-14zM103.5 146.5h6v4h-6zM115.5 145v6M119.5 145v6M203.5 145.5h15v5h-15zM231.5 146.5h18v3h-18zM85.5 155.5h14v5h-14zM104.5 156.5h4v4h-4zM115.5 155v6M119.5 155v6M85.5 164.5h14v5h-14zM103.5 165.5h6v4h-6zM113.5 164v6M117.5 164v6M201.5 164.5h19v5h-19zM235.5 165.5h10v3h-10zM85.5 173.5h14v5h-14zM103.5 174.5h6v4h-6zM113.5 173v6M117.5 173v6M120.5 173v6M200.5 173.5h22v5h-22zM235.5 174.5h10v3h-10zM85.5 182.5h14v5h-14zM103.5 183.5h6v4h-6zM113.5 182v6M117.5 182v6M120.5 182v6M200.5 182.5h22v5h-22zM235.5 183.5h10v3h-10zM85.5 200.5h14v5h-14zM104.5 201.5h4v4h-4zM115.5 200v6M119.5 200v6M122.5 200v6M126.5 200v6M130.5 200v6M134.5 200v6M137.5 200v6M141.5 200v6M83.5 219.5h18v3h-18zM104.5 219.5h4v4h-4zM115.5 218v6M119.5 218v6M122.5 218v6M126.5 218v6M115.5 227v6M119.5 227v6M122.5 227v6M126.5 227v6M130.5 227v6M134.5 227v6M137.5 227v6M141.5 227v6M145.5 227v6M148.5 227v6M152.5 227v6M156.5 227v6M159.5 227v6M163.5 227v6M167.5 227v6M83.5 237.5h18v3h-18zM104.5 237.5h4v4h-4zM115.5 236v6M85.5 254.5h14v5h-14zM104.5 255.5h4v4h-4zM113.5 254v6M117.5 254v6M92.5 261v18M101.5 261v18M124.5 261v18M141.5 261v18M158.5 261v18M167.5 261v18M176.5 261v18M199.5 261v18M216.5 261v18M233.5 261v18M83 267.5h151M83 273.5h151M262 267.5h41M262 273.5h41M329 267.5h43M329 273.5h43M233.5 261v18M262.5 261v18M302.5 261v18M329.5 261v18M371.5 261v18M241.5 263.5h13v3h-13zM241.5 268.5h13v3h-13zM241.5 274.5h13v3h-13zM308.5 263.5h16v3h-16zM308.5 268.5h16v3h-16zM308.5 274.5h16v3h-16zM372.5 266.5h13v4h-13zM371 273.5h16M378.5 274v4M467.5 46.5h337v238h-337zM475.5 200.5h11v6h-11zM475.5 216.5h11v6h-11zM475.5 232.5h11v6h-11zM475.5 248.5h11v6h-11zM467 199.5h29M467 207.5h29M467 215.5h29M467 223.5h29M467 231.5h29M467 239.5h29M467 247.5h29M467 255.5h29M467 262.5h29M467 270.5h29M467 278.5h29M495.5 52.5h304v226h-304zM534.5 51v21M495 71.5h305M495 80.5h305M495 261.5h305M624 61.5h176M624.5 52v20M647.5 52v20M692.5 52v20M715.5 52v20M742.5 52v20M753.5 52v20M776.5 52v20M524.5 71v10M559.5 71v10M588.5 71v10M609.5 71v10M638.5 71v10M668.5 71v10M700.5 71v10M711.5 71v10M753.5 71v10M765.5 71v10M776.5 71v10M513.5 80v182M524.5 80v182M609.5 80v182M638.5 80v182M668.5 80v182M700.5 80v182M776.5 80v182M517.5 80v19M776 89.5h24M787.5 89v173M499.5 87.5h8v6h-8zM561.5 87.5h15v5h-15zM618.5 87.5h14v5h-14zM645.5 87.5h15v5h-15zM677.5 87.5h14v5h-14zM733.5 87.5h15v6h-15zM779.5 82.5h16v5h-16zM779.5 92.5h5v4h-5zM790.5 92.5h6v4h-6zM502.5 73.5h14v5h-14zM534.5 73.5h16v4h-16zM566.5 73.5h15v5h-15zM595.5 73.5h7v5h-7zM615.5 73.5h17v5h-17zM648.5 73.5h10v4h-10zM671.5 73.5h26v5h-26zM725.5 73.5h15v5h-15zM767.5 73.5h7v5h-7zM628.5 54.5h15v5h-15zM625.5 63.5h21v6h-21zM666.5 54.5h7v5h-7zM654.5 64.5h31v4h-31zM696.5 54.5h15v5h-15zM696.5 63.5h15v6h-15zM718.5 54.5h21v4h-21zM719.5 63.5h19v6h-19zM747.5 64.5h2v4h-2zM756.5 54.5h3v5h-3zM763.5 54.5h4v4h-4zM770.5 54.5h3v5h-3zM754.5 63.5h11v6h-11zM770.5 63.5h4v6h-4zM765.5 64.5h4v4h-4zM779.5 54.5h3v5h-3zM787.5 55.5h2v4h-2zM793.5 54.5h3v5h-3zM777.5 63.5h11v6h-11zM793.5 63.5h3v6h-3zM499 59.5h3M504 59.5h1M506 59.5h1M509 59.5h1M511 59.5h1M514 59.5h3M518 59.5h5M525 59.5h3M499 60.5h3M503 60.5h16M521 60.5h3M499 61.5h25M499 62.5h4M504 62.5h2M507 62.5h12M521 62.5h4M499 63.5h1M502 63.5h2M506 63.5h1M508 63.5h1M510 63.5h5M516 63.5h1M518 63.5h7M539 57.5h1M542 57.5h2M547 57.5h1M551 57.5h2M555 57.5h1M579 57.5h1M582 57.5h1M586 57.5h1M591 57.5h1M594 57.5h2M597 57.5h3M604 57.5h1M610 57.5h1M613 57.5h1M539 58.5h1M541 58.5h4M547 58.5h1M551 58.5h2M554 58.5h2M558 58.5h3M562 58.5h7M570 58.5h15M586 58.5h1M590 58.5h2M593 58.5h8M604 58.5h4M610 58.5h1M613 58.5h1M538 59.5h7M546 59.5h7M554 59.5h5M560 59.5h1M565 59.5h1M572 59.5h2M579 59.5h2M582 59.5h1M588 59.5h5M594 59.5h4M599 59.5h2M604 59.5h2M610 59.5h6M539 60.5h1M541 60.5h4M547 60.5h1M549 60.5h4M555 60.5h4M560 60.5h1M565 60.5h1M572 60.5h2M578 60.5h6M586 60.5h1M588 60.5h1M590 60.5h2M593 60.5h7M601 60.5h7M610 60.5h6M539 61.5h6M546 61.5h7M555 61.5h4M560 61.5h1M565 61.5h1M572 61.5h2M579 61.5h4M586 61.5h1M588 61.5h4M594 61.5h7M602 61.5h6M610 61.5h1M538 62.5h7M546 62.5h7M554 62.5h5M560 62.5h1M565 62.5h1M572 62.5h2M580 62.5h2M586 62.5h1M590 62.5h2M593 62.5h4M598 62.5h1M604 62.5h2M610 62.5h5M538 63.5h2M541 63.5h1M543 63.5h10M554 63.5h5M560 63.5h1M565 63.5h1M572 63.5h2M579 63.5h1M584 63.5h1M586 63.5h1M589 63.5h3M593 63.5h7M604 63.5h4M609 63.5h2M614 63.5h1M539 64.5h1M541 64.5h1M543 64.5h3M547 64.5h2M550 64.5h3M554 64.5h1M556 64.5h5M562 64.5h15M578 64.5h15M594 64.5h2M598 64.5h1M604 64.5h2M609 64.5h2M614 64.5h1M539 65.5h3M544 65.5h1M547 65.5h2M550 65.5h3M554 65.5h3M558 65.5h1M560 65.5h1M579 65.5h5M588 65.5h5M594 65.5h7M604 65.5h1M609 65.5h1M614 65.5h1M497.5 109.5h14v5h-14zM516.5 110.5h4v4h-4zM526.5 109v6M530.5 109v6M533.5 109v6M537.5 109v6M541.5 109v6M545.5 109v6M612.5 109.5h22v5h-22zM642.5 110.5h22v3h-22zM497.5 127.5h14v5h-14zM516.5 128.5h4v4h-4zM526.5 127v6M530.5 127v6M533.5 127v6M537.5 127v6M541.5 127v6M609.5 127.5h28v5h-28zM644.5 128.5h17v3h-17zM497.5 145.5h14v5h-14zM516.5 146.5h4v4h-4zM526.5 145v6M614.5 145.5h18v5h-18zM648.5 146.5h9v3h-9zM497.5 164.5h14v5h-14zM516.5 165.5h4v4h-4zM526.5 164v6M497.5 182.5h14v5h-14zM516.5 183.5h4v4h-4zM526.5 182v6M530.5 182v6M533.5 182v6M614.5 182.5h18v5h-18zM645.5 183.5h15v3h-15zM497.5 200.5h14v5h-14zM516.5 201.5h4v4h-4zM526.5 200v6M530.5 200v6M533.5 200v6M617.5 200.5h12v5h-12zM497.5 218.5h14v5h-14zM516.5 219.5h4v4h-4zM526.5 218v6M530.5 218v6M533.5 218v6M537.5 218v6M541.5 218v6M545.5 218v6M548.5 218v6M552.5 218v6M556.5 218v6M497.5 236.5h14v5h-14zM516.5 237.5h4v4h-4zM526.5 236v6M530.5 236v6M533.5 236v6M537.5 236v6M541.5 236v6M545.5 236v6M548.5 236v6M552.5 236v6M556.5 236v6M559.5 236v6M504.5 261v18M513.5 261v18M537.5 261v18M554.5 261v18M571.5 261v18M580.5 261v18M589.5 261v18M612.5 261v18M629.5 261v18M646.5 261v18M495 267.5h152M495 273.5h152M675 267.5h41M675 273.5h41M742 267.5h43M742 273.5h43M646.5 261v18M675.5 261v18M715.5 261v18M742.5 261v18M784.5 261v18M654.5 263.5h13v3h-13zM654.5 268.5h13v3h-13zM654.5 274.5h13v3h-13zM721.5 263.5h16v3h-16zM721.5 268.5h16v3h-16zM721.5 274.5h16v3h-16zM785.5 266.5h13v4h-13zM784 273.5h16M791.5 274v4M880.5 46.5h336v238h-336zM888.5 200.5h11v6h-11zM888.5 216.5h11v6h-11zM888.5 232.5h11v6h-11zM888.5 248.5h11v6h-11zM880 199.5h29M880 207.5h29M880 215.5h29M880 223.5h29M880 231.5h29M880 239.5h29M880 247.5h29M880 255.5h29M880 262.5h29M880 270.5h29M880 278.5h29M908.5 52.5h303v226h-303zM908 71.5h304M908 78.5h304M908 86.5h304M908 261.5h304M1032 61.5h180M936.5 52v20M951.5 52v20M971.5 52v20M1032.5 52v20M1058.5 52v20M1098.5 52v20M1121.5 52v20M1154.5 52v20M1166.5 52v20M1188.5 52v20M922.5 71v16M944.5 71v16M967.5 71v16M990.5 71v16M1007.5 71v16M1033.5 71v16M1044.5 71v16M1058.5 71v16M1078.5 71v16M1103.5 71v16M1125.5 71v16M1148.5 71v16M1191.5 71v16M916.5 86v176M1058.5 86v176M1084.5 86v176M1135.5 86v176M1148.5 86v176M1165.5 86v176M1201.5 86v176M1156.5 92v170M940.5 59.5h8v5h-8zM954.5 58.5h15v6h-15zM1038.5 54.5h16v5h-16zM1074.5 54.5h8v5h-8zM1063.5 64.5h30v4h-30zM1103.5 54.5h14v5h-14zM1103.5 63.5h14v6h-14zM1127.5 54.5h21v4h-21zM1128.5 63.5h19v6h-19zM1159.5 64.5h2v4h-2zM1167.5 54.5h4v5h-4zM1174.5 55.5h4v4h-4zM1182.5 54.5h4v5h-4zM1166.5 63.5h11v6h-11zM1178.5 64.5h4v4h-4zM1182.5 63.5h4v6h-4zM1190.5 54.5h4v5h-4zM1205.5 54.5h4v5h-4zM1188.5 63.5h9v6h-9zM1200.5 64.5h2v4h-2zM1205.5 63.5h4v6h-4zM1199.5 55v4M1200.5 55v4M909 59.5h3M915 59.5h1M918 59.5h1M920 59.5h1M922 59.5h1M924 59.5h1M926 59.5h4M931 59.5h3M909 60.5h3M913 60.5h6M920 60.5h7M928 60.5h2M931 60.5h1M909 61.5h3M913 61.5h6M920 61.5h10M931 61.5h1M909 62.5h3M913 62.5h1M915 62.5h15M931 62.5h1M909 63.5h3M913 63.5h1M915 63.5h1M917 63.5h1M919 63.5h4M924 63.5h1M926 63.5h5M976 59.5h1M978 59.5h1M981 59.5h1M984 59.5h1M986 59.5h1M1003 59.5h1M1005 59.5h1M1008 59.5h1M1010 59.5h2M1013 59.5h1M1015 59.5h2M1020 59.5h1M1024 59.5h1M1026 59.5h1M975 60.5h4M981 60.5h4M986 60.5h5M992 60.5h4M997 60.5h4M1002 60.5h8M1011 60.5h1M1013 60.5h1M1015 60.5h1M1020 60.5h2M1024 60.5h1M1026 60.5h1M975 61.5h3M981 61.5h4M986 61.5h3M990 61.5h1M993 61.5h1M1003 61.5h1M1005 61.5h1M1008 61.5h4M1013 61.5h4M1020 61.5h1M1024 61.5h4M975 62.5h3M981 62.5h4M986 62.5h3M990 62.5h1M993 62.5h1M1003 62.5h3M1007 62.5h5M1013 62.5h4M1018 62.5h5M1024 62.5h1M975 63.5h3M980 63.5h5M986 63.5h3M990 63.5h1M993 63.5h1M1003 63.5h1M1008 63.5h1M1010 63.5h1M1013 63.5h1M1015 63.5h2M1020 63.5h2M1024 63.5h3M976 64.5h2M979 64.5h1M981 64.5h4M986 64.5h5M992 64.5h4M997 64.5h4M1002 64.5h1M1006 64.5h5M1013 64.5h1M1015 64.5h2M1020 64.5h1M1022 64.5h1M1024 64.5h1M976 65.5h1M979 65.5h1M981 65.5h1M983 65.5h2M986 65.5h2M989 65.5h2M1003 65.5h3M1007 65.5h1M1009 65.5h1M1011 65.5h1M1013 65.5h1M1015 65.5h3M1020 65.5h1M1023 65.5h1M911.5 73.5h8v3h-8zM927.5 73.5h10v3h-10zM949.5 73.5h13v3h-13zM971.5 73.5h13v4h-13zM991.5 72.5h15v4h-15zM1015.5 73.5h10v4h-10zM1034.5 73.5h9v3h-9zM1046.5 73.5h11v3h-11zM1060.5 73.5h14v3h-14zM1083.5 73.5h14v3h-14zM1107.5 73.5h14v3h-14zM1130.5 73.5h14v3h-14zM1167.5 73.5h14v3h-14zM1197.5 74.5h7v2h-7zM991 73.5h16M925.5 80.5h15v4h-15zM945.5 80.5h21v4h-21zM974.5 80.5h9v4h-9zM1014.5 81.5h12v2h-12zM1036.5 80.5h5v4h-5zM1047.5 81.5h7v2h-7zM1060.5 81.5h16v3h-16zM1080.5 81.5h21v2h-21zM914.5 80v4M915.5 80v4M909.5 90.5h6v3h-6zM977.5 89.5h45v6h-45zM1063.5 89.5h15v6h-15zM1101.5 89.5h15v5h-15zM1150.5 93.5h4v3h-4zM1158.5 93.5h5v3h-5zM1203.5 87v11M1206.5 87v11M1203 90.5h4M1203 93.5h4M911.5 100.5h2v4h-2zM918.5 100v5M920.5 100v5M923.5 100v5M926.5 100v5M929.5 100v5M932.5 100v5M935.5 100v5M938.5 100v5M941.5 100v5M943.5 100v5M945.5 100v5M948.5 100v5M951.5 100v5M954.5 100v5M957.5 100v5M960.5 100v5M962.5 100v5M964.5 100v5M911.5 115.5h2v4h-2zM918.5 115v5M920.5 115v5M921.5 115v5M923.5 115v5M926.5 115v5M929.5 115v5M932.5 115v5M935.5 115v5M938.5 115v5M941.5 115v5M944.5 115v5M947.5 115v5M948.5 115v5M950.5 115v5M953.5 115v5M955.5 115v5M958.5 115v5M961.5 115v5M964.5 115v5M966.5 115v5M969.5 115v5M972.5 115v5M974.5 115v5M976.5 115v5M978.5 115v5M981.5 115v5M984.5 115v5M987.5 115v5M990.5 115v5M992.5 115v5M994.5 115v5M997.5 115v5M1000.5 115v5M917.5 261v18M926.5 261v18M949.5 261v18M966.5 261v18M983.5 261v18M992.5 261v18M1001.5 261v18M1024.5 261v18M1041.5 261v18M1058.5 261v18M908 267.5h151M908 273.5h151M1058 270.5h154M1088.5 261v18M1119.5 261v18M1149.5 261v18M1180.5 261v18M1064.5 263.5h18v5h-18zM1094.5 263.5h19v5h-19zM1123.5 263.5h22v5h-22zM1155.5 263.5h19v5h-19zM1187.5 263.5h16v5h-16zM1193.5 272.5h2v4h-2zM1292.5 46.5h337v238h-337zM1300.5 200.5h11v6h-11zM1300.5 216.5h11v6h-11zM1300.5 232.5h11v6h-11zM1300.5 248.5h11v6h-11zM1292 199.5h29M1292 207.5h29M1292 215.5h29M1292 223.5h29M1292 231.5h29M1292 239.5h29M1292 247.5h29M1292 255.5h29M1292 262.5h29M1292 270.5h29M1292 278.5h29M1320.5 51.5h304v228h-304zM1320 71.5h305M1320 78.5h305M1320 86.5h305M1320 254.5h305M1320 262.5h305M1452 61.5h173M1349.5 51v21M1363.5 51v21M1384.5 51v21M1452.5 51v21M1478.5 51v21M1516.5 51v21M1539.5 51v21M1567.5 51v21M1579.5 51v21M1601.5 51v21M1334.5 71v16M1357.5 71v16M1379.5 71v16M1402.5 71v16M1419.5 71v16M1457.5 71v16M1474.5 71v16M1490.5 71v16M1508.5 71v16M1528.5 71v16M1547.5 71v16M1571.5 71v16M1366.5 58.5h15v6h-15zM1457.5 54.5h17v5h-17zM1493.5 53.5h8v6h-8zM1482.5 64.5h30v4h-30zM1520.5 54.5h15v5h-15zM1520.5 63.5h15v6h-15zM1542.5 54.5h21v4h-21zM1543.5 63.5h20v5h-20zM1571.5 64.5h2v4h-2zM1580.5 54.5h4v5h-4zM1587.5 55.5h4v4h-4zM1595.5 54.5h4v5h-4zM1579.5 63.5h11v6h-11zM1591.5 64.5h4v4h-4zM1595.5 63.5h4v6h-4zM1603.5 54.5h4v5h-4zM1612.5 55.5h2v4h-2zM1618.5 54.5h3v5h-3zM1601.5 63.5h9v6h-9zM1613.5 64.5h2v4h-2zM1618.5 63.5h3v6h-3zM1321 59.5h3M1327 59.5h1M1330 59.5h1M1332 59.5h1M1334 59.5h1M1336 59.5h1M1338 59.5h4M1343 59.5h3M1321 60.5h3M1325 60.5h6M1332 60.5h7M1340 60.5h2M1343 60.5h1M1321 61.5h3M1325 61.5h6M1332 61.5h10M1343 61.5h1M1321 62.5h3M1325 62.5h1M1327 62.5h15M1343 62.5h1M1321 63.5h3M1325 63.5h1M1327 63.5h1M1329 63.5h1M1331 63.5h4M1336 63.5h1M1338 63.5h5M1355 60.5h2M1359 60.5h1M1353 61.5h5M1359 61.5h1M1353 62.5h5M1359 62.5h1M1353 63.5h5M1359 63.5h2M1387 56.5h1M1389 56.5h3M1394 56.5h1M1397 56.5h2M1401 56.5h1M1424 56.5h2M1429 56.5h6M1438 56.5h1M1444 56.5h1M1446 56.5h1M1387 57.5h1M1389 57.5h3M1394 57.5h1M1397 57.5h3M1401 57.5h1M1404 57.5h3M1408 57.5h6M1415 57.5h6M1422 57.5h6M1429 57.5h6M1438 57.5h4M1444 57.5h1M1446 57.5h2M1386 58.5h4M1391 58.5h1M1393 58.5h14M1410 58.5h1M1417 58.5h2M1422 58.5h6M1429 58.5h6M1438 58.5h2M1444 58.5h5M1387 59.5h1M1389 59.5h1M1391 59.5h1M1394 59.5h1M1396 59.5h4M1401 59.5h6M1410 59.5h1M1417 59.5h1M1422 59.5h1M1424 59.5h3M1429 59.5h4M1434 59.5h1M1436 59.5h6M1444 59.5h5M1386 60.5h4M1391 60.5h1M1393 60.5h7M1401 60.5h6M1410 60.5h1M1417 60.5h1M1422 60.5h1M1424 60.5h3M1429 60.5h6M1436 60.5h6M1444 60.5h1M1386 61.5h4M1391 61.5h1M1393 61.5h6M1401 61.5h6M1410 61.5h1M1417 61.5h1M1422 61.5h6M1429 61.5h6M1438 61.5h3M1443 61.5h5M1386 62.5h2M1389 62.5h1M1391 62.5h8M1400 62.5h7M1410 62.5h1M1417 62.5h1M1422 62.5h1M1425 62.5h3M1429 62.5h4M1434 62.5h1M1438 62.5h4M1443 62.5h2M1447 62.5h1M1387 63.5h3M1391 63.5h2M1394 63.5h29M1425 63.5h1M1429 63.5h6M1438 63.5h2M1441 63.5h1M1443 63.5h1M1447 63.5h1M1387 64.5h2M1391 64.5h2M1394 64.5h2M1397 64.5h4M1402 64.5h1M1404 64.5h3M1421 64.5h1M1424 64.5h2M1429 64.5h6M1438 64.5h2M1443 64.5h1M1447 64.5h1M1323.5 73.5h8v3h-8zM1340.5 73.5h10v3h-10zM1361.5 73.5h13v3h-13zM1385.5 72.5h12v4h-12zM1431.5 72.5h10v4h-10zM1460.5 73.5h10v3h-10zM1476.5 72.5h12v4h-12zM1492.5 73.5h14v3h-14zM1590.5 72.5h14v3h-14zM1492 74.5h15M1326.5 80.5h2v3h-2zM1338.5 80.5h15v4h-15zM1357.5 80.5h22v4h-22zM1386.5 80.5h9v4h-9zM1432.5 81.5h12v2h-12zM1462.5 80.5h6v4h-6zM1479.5 81.5h7v2h-7zM1490.5 80.5h18v2h-18zM1508.5 81.5h19v2h-19zM1490 84.5h19M1508 85.5h20M1333.5 254v9M1349.5 256.5h16v4h-16zM1380.5 255v7M1386.5 256.5h14v4h-14zM1412 259.5h13M1430.5 256.5h17v4h-17zM1462 259.5h13M1477.5 256.5h5v4h-5zM1493.5 255v7M1329.5 262v18M1338.5 262v18M1361.5 262v18M1378.5 262v18M1395.5 262v18M1404.5 262v18M1413.5 262v18M1436.5 262v18M1453.5 262v18M1470.5 262v18M1320 268.5h151M1320 274.5h151M1470 271.5h154M1500.5 262v18M1531.5 262v18M1561.5 262v18M1592.5 262v18M1476.5 264.5h18v5h-18zM1506.5 264.5h19v5h-19zM1535.5 264.5h22v5h-22zM1567.5 264.5h19v5h-19zM1599.5 264.5h16v5h-16zM1605.5 273.5h2v4h-2zM1365.5 132v57M1461.5 132v57M1365 135.5h97M1406.5 128.5h14v6h-14zM1406.5 137.5h14v6h-14zM1387.5 141v48M1438.5 141v48M1387 144.5h52M1354 152.5h108M1387 153.5h52M1354 188.5h108M1357.5 152v37M1350.5 163.5h6v14h-6zM1470 129.5h43M1470 130.5h43M1473.5 123.5h39v6h-39zM1457 112.5h74M1457.5 105v8M1460.5 105v8M1463.5 105v8M1465.5 105v8M1468.5 105v8M1471.5 105v8M1474.5 105v8M1477.5 105v8M1480.5 105v8M1482.5 105v8M1485.5 105v8M1488.5 105v8M1491.5 105v8M1494.5 105v8M1496.5 105v8M1499.5 105v8M1502.5 105v8M1505.5 105v8M1508.5 105v8M1511.5 105v8M1513.5 105v8M1516.5 105v8M1519.5 105v8M1522.5 105v8M1525.5 105v8M1482.5 113.5h22v6h-22zM1449.5 200v3M1450.5 200v2M1451.5 200v3M1452.5 199v3M1453.5 200v3M1454.5 199v4M1455.5 200v2M1457.5 199v4M1458.5 200v2M1459.5 200v3M1460.5 199v4M1461.5 199v3M1464.5 200v3M1466.5 199v3M1419.5 214v4M1423.5 214v4M1425.5 214v4M1428.5 215v2M1432.5 214v3M1434.5 215v2M1438.5 215v2M1439.5 214v3M1441.5 214v3M1419 219.5h24M1447.5 214v4M1452.5 214v4M1447 218.5h6M1456.5 214v4M1466.5 214v4M1456 218.5h11M1470.5 214v4M1478.5 214v4M1470 218.5h9M1461.5 214v4M1474.5 219v4M1474 222.5h16M1489.5 220.5h13v4h-13zM1461.5 219v11M1461 229.5h29M1489.5 226.5h9v6h-9zM1448.5 219v18M1448 236.5h42M1489.5 233.5h24v6h-24zM55.5 372.5h336v239h-336zM63.5 526.5h11v6h-11zM63.5 542.5h11v6h-11zM63.5 558.5h11v6h-11zM63.5 574.5h11v6h-11zM55 525.5h29M55 533.5h29M55 541.5h29M55 549.5h29M55 557.5h29M55 565.5h29M55 573.5h29M55 581.5h29M55 589.5h29M55 597.5h29M55 605.5h29M237 580.5h150M83.5 378.5h303v227h-303zM83 397.5h304M83 404.5h304M83 412.5h304M218 387.5h169M111.5 378v20M126.5 378v20M146.5 378v20M218.5 378v20M243.5 378v20M277.5 378v20M300.5 378v20M329.5 378v20M341.5 378v20M363.5 378v20M97.5 397v16M119.5 397v16M142.5 397v16M165.5 397v16M181.5 397v16M215.5 397v16M232.5 397v16M244.5 397v16M260.5 397v16M277.5 397v16M300.5 397v16M317.5 397v16M369.5 397v16M97.5 412v169M119.5 412v169M133.5 412v169M170.5 412v169M192.5 412v169M217.5 412v169M232.5 412v169M237.5 412v169M250.5 412v169M273.5 412v169M287.5 412v169M323.5 412v169M346.5 412v169M371.5 412v169M83 588.5h304M115.5 385.5h8v5h-8zM129.5 385.5h15v5h-15zM224.5 380.5h15v5h-15zM257.5 380.5h7v5h-7zM245.5 390.5h31v4h-31zM281.5 380.5h15v6h-15zM281.5 390.5h15v5h-15zM304.5 381.5h21v4h-21zM305.5 390.5h19v5h-19zM334.5 390.5h2v4h-2zM342.5 380.5h3v5h-3zM350.5 381.5h4v4h-4zM357.5 380.5h4v5h-4zM341.5 389.5h11v6h-11zM353.5 390.5h2v4h-2zM357.5 389.5h4v6h-4zM365.5 380.5h4v5h-4zM374.5 381.5h2v4h-2zM380.5 380.5h4v5h-4zM363.5 389.5h9v6h-9zM380.5 389.5h4v6h-4zM376.5 390v5M377.5 390v5M84 385.5h3M90 385.5h1M93 385.5h1M95 385.5h1M97 385.5h1M99 385.5h1M101 385.5h4M106 385.5h3M84 386.5h3M88 386.5h6M95 386.5h7M103 386.5h2M106 386.5h1M84 387.5h3M88 387.5h6M95 387.5h10M106 387.5h1M84 388.5h3M88 388.5h1M90 388.5h15M106 388.5h1M84 389.5h3M88 389.5h1M90 389.5h1M92 389.5h1M94 389.5h4M99 389.5h1M101 389.5h5M150 385.5h1M152 385.5h1M155 385.5h1M158 385.5h1M161 385.5h1M179 385.5h1M183 385.5h4M189 385.5h1M191 385.5h1M194 385.5h1M196 385.5h2M199 385.5h5M213 385.5h1M149 386.5h5M155 386.5h10M166 386.5h4M172 386.5h4M177 386.5h5M183 386.5h3M189 386.5h3M194 386.5h4M199 386.5h5M207 386.5h2M211 386.5h1M213 386.5h1M149 387.5h3M153 387.5h1M155 387.5h4M161 387.5h4M168 387.5h1M173 387.5h1M177 387.5h4M183 387.5h4M188 387.5h5M194 387.5h4M199 387.5h5M206 387.5h2M211 387.5h4M149 388.5h3M153 388.5h1M155 388.5h5M161 388.5h4M168 388.5h1M173 388.5h1M177 388.5h1M179 388.5h2M183 388.5h4M189 388.5h3M194 388.5h4M199 388.5h5M205 388.5h4M211 388.5h1M149 389.5h3M153 389.5h1M155 389.5h4M162 389.5h3M168 389.5h1M173 389.5h1M177 389.5h5M183 389.5h4M189 389.5h4M194 389.5h4M200 389.5h4M207 389.5h2M211 389.5h3M150 390.5h2M153 390.5h6M160 390.5h1M162 390.5h3M166 390.5h4M172 390.5h4M177 390.5h1M179 390.5h1M182 390.5h1M184 390.5h3M189 390.5h3M194 390.5h4M199 390.5h2M202 390.5h1M208 390.5h1M210 390.5h1M150 391.5h2M153 391.5h1M155 391.5h1M158 391.5h4M163 391.5h2M179 391.5h1M184 391.5h1M186 391.5h1M188 391.5h5M194 391.5h4M201 391.5h3M210 391.5h1M86.5 399.5h8v3h-8zM103.5 399.5h9v3h-9zM125.5 399.5h12v3h-12zM148.5 399.5h12v3h-12zM192.5 399.5h10v3h-10zM217.5 399.5h10v3h-10zM233.5 399.5h9v3h-9zM245.5 399.5h13v3h-13zM262.5 399.5h13v3h-13zM282.5 399.5h13v3h-13zM303.5 399.5h13v3h-13zM330.5 399.5h13v2h-13zM373.5 400.5h8v2h-8zM165 399.5h17M165 401.5h17M100.5 406.5h15v3h-15zM120.5 406.5h21v4h-21zM149.5 406.5h8v3h-8zM192.5 407.5h12v2h-12zM221.5 407.5h5v2h-5zM234.5 406.5h7v3h-7zM244.5 407.5h15v2h-15zM262.5 407.5h14v2h-14zM89.5 406v4M90.5 406v4M87.5 416.5h7v5h-7zM174.5 416.5h16v5h-16zM219.5 416.5h12v5h-12zM240.5 416.5h8v5h-8zM328.5 416.5h15v5h-15zM373.5 416.5h11v5h-11zM92.5 588v18M101.5 588v18M124.5 588v18M141.5 588v18M158.5 588v18M167.5 588v18M176.5 588v18M199.5 588v18M216.5 588v18M233.5 588v18M83 594.5h151M83 600.5h151M233 597.5h154M263.5 588v18M294.5 588v18M324.5 588v18M355.5 588v18M239.5 590.5h18v5h-18zM269.5 590.5h19v5h-19zM298.5 590.5h22v5h-22zM330.5 590.5h19v5h-19zM362.5 590.5h16v5h-16zM368.5 599.5h2v4h-2zM467.5 372.5h337v239h-337zM475.5 526.5h11v6h-11zM475.5 542.5h11v6h-11zM475.5 558.5h11v6h-11zM475.5 574.5h11v7h-11zM467 525.5h29M467 533.5h29M467 541.5h29M467 549.5h29M467 557.5h29M467 565.5h29M467 573.5h29M467 582.5h29M467 589.5h29M467 597.5h29M467 605.5h29M495.5 378.5h304v227h-304zM495 397.5h305M495 404.5h305M495 412.5h305M495 588.5h305M619 387.5h181M523.5 378v20M538.5 378v20M558.5 378v20M619.5 378v20M645.5 378v20M685.5 378v20M708.5 378v20M742.5 378v20M754.5 378v20M776.5 378v20M509.5 397v16M531.5 397v16M554.5 397v16M577.5 397v16M594.5 397v16M620.5 397v16M631.5 397v16M645.5 397v16M665.5 397v16M690.5 397v16M712.5 397v16M736.5 397v16M779.5 397v16M503.5 412v177M645.5 412v177M671.5 412v177M722.5 412v177M736.5 412v177M753.5 412v177M789.5 412v177M744.5 418v171M527.5 385.5h8v5h-8zM541.5 384.5h15v6h-15zM625.5 380.5h16v5h-16zM661.5 380.5h8v5h-8zM650.5 390.5h30v4h-30zM690.5 380.5h14v5h-14zM690.5 389.5h14v6h-14zM714.5 380.5h22v4h-22zM715.5 389.5h20v6h-20zM747.5 390.5h2v4h-2zM755.5 380.5h4v5h-4zM762.5 381.5h4v4h-4zM770.5 380.5h4v5h-4zM754.5 389.5h11v6h-11zM766.5 390.5h4v4h-4zM770.5 389.5h4v6h-4zM778.5 380.5h4v5h-4zM793.5 380.5h4v5h-4zM776.5 389.5h9v6h-9zM788.5 390.5h2v4h-2zM793.5 389.5h4v6h-4zM787.5 381v4M788.5 381v4M496 385.5h3M502 385.5h1M505 385.5h1M507 385.5h1M509 385.5h1M511 385.5h1M513 385.5h4M518 385.5h3M496 386.5h3M500 386.5h6M507 386.5h7M515 386.5h2M518 386.5h1M496 387.5h3M500 387.5h6M507 387.5h10M518 387.5h1M496 388.5h3M500 388.5h1M502 388.5h15M518 388.5h1M496 389.5h3M500 389.5h1M502 389.5h1M504 389.5h1M506 389.5h4M511 389.5h1M513 389.5h5M563 385.5h1M565 385.5h1M568 385.5h1M571 385.5h1M573 385.5h1M590 385.5h1M592 385.5h1M595 385.5h1M597 385.5h2M600 385.5h1M602 385.5h2M607 385.5h1M611 385.5h1M613 385.5h1M562 386.5h4M568 386.5h4M573 386.5h5M579 386.5h4M584 386.5h4M589 386.5h8M598 386.5h1M600 386.5h1M602 386.5h1M607 386.5h2M611 386.5h1M613 386.5h1M562 387.5h3M568 387.5h4M573 387.5h3M577 387.5h1M580 387.5h1M590 387.5h1M592 387.5h1M595 387.5h4M600 387.5h4M607 387.5h1M611 387.5h4M562 388.5h3M568 388.5h4M573 388.5h3M577 388.5h1M580 388.5h1M590 388.5h3M594 388.5h5M600 388.5h4M605 388.5h5M611 388.5h1M562 389.5h3M567 389.5h5M573 389.5h3M577 389.5h1M580 389.5h1M590 389.5h1M595 389.5h1M597 389.5h1M600 389.5h1M602 389.5h2M607 389.5h2M611 389.5h3M563 390.5h2M566 390.5h1M568 390.5h4M573 390.5h5M579 390.5h4M584 390.5h4M589 390.5h1M593 390.5h5M600 390.5h1M602 390.5h2M607 390.5h1M609 390.5h1M611 390.5h1M563 391.5h1M566 391.5h1M568 391.5h1M570 391.5h2M573 391.5h2M576 391.5h2M590 391.5h3M594 391.5h1M596 391.5h1M598 391.5h1M600 391.5h1M602 391.5h3M607 391.5h1M610 391.5h1M498.5 399.5h8v3h-8zM514.5 399.5h10v3h-10zM536.5 399.5h13v3h-13zM558.5 399.5h13v4h-13zM578.5 398.5h15v4h-15zM602.5 399.5h10v4h-10zM621.5 399.5h9v3h-9zM633.5 399.5h11v3h-11zM647.5 399.5h14v3h-14zM670.5 399.5h14v3h-14zM694.5 399.5h14v3h-14zM717.5 399.5h15v3h-15zM755.5 399.5h14v3h-14zM785.5 400.5h7v2h-7zM578 399.5h16M512.5 406.5h15v4h-15zM532.5 406.5h21v4h-21zM561.5 406.5h9v4h-9zM601.5 407.5h12v2h-12zM623.5 406.5h5v4h-5zM634.5 407.5h7v2h-7zM647.5 407.5h16v3h-16zM667.5 407.5h21v2h-21zM501.5 406v4M502.5 406v4M496.5 416.5h6v3h-6zM564.5 415.5h45v6h-45zM650.5 415.5h15v6h-15zM688.5 415.5h15v5h-15zM738.5 419.5h4v3h-4zM746.5 419.5h5v3h-5zM791.5 413v11M794.5 413v11M791 416.5h4M791 419.5h4M498.5 426.5h2v4h-2zM504.5 426v5M506.5 426v5M509.5 426v5M511.5 426v5M514.5 426v5M516.5 426v5M519.5 426v5M521.5 426v5M524.5 426v5M526.5 426v5M528.5 426v5M530.5 426v5M533.5 426v5M535.5 426v5M538.5 426v5M540.5 426v5M542.5 426v5M544.5 426v5M547.5 426v5M549.5 426v5M552.5 426v5M553.5 426v5M554.5 426v5M557.5 426v5M559.5 426v5M562.5 426v5M564.5 426v5M566.5 426v5M567.5 426v5M569.5 426v5M571.5 426v5M573.5 426v5M576.5 426v5M579.5 426v5M581.5 426v5M584.5 426v5M586.5 426v5M589.5 426v5M592.5 426v5M594.5 426v5M597.5 426v5M599.5 426v5M601.5 426v5M603.5 426v5M605.5 426v5M608.5 426v5M610.5 426v5M613.5 426v5M615.5 426v5M618.5 426v5M620.5 426v5M622.5 426v5M625.5 426v5M627.5 426v5M630.5 426v5M632.5 426v5M635.5 426v5M504.5 433v5M506.5 433v5M509.5 433v5M511.5 433v5M513.5 433v5M514.5 433v5M516.5 433v5M518.5 433v5M521.5 433v5M524.5 433v5M526.5 433v5M528.5 433v5M529.5 433v5M531.5 433v5M533.5 433v5M536.5 433v5M537.5 433v5M539.5 433v5M541.5 433v5M544.5 433v5M546.5 433v5M549.5 433v5M552.5 433v5M554.5 433v5M556.5 433v5M559.5 433v5M498.5 448.5h2v4h-2zM504.5 448v5M507.5 448v5M509.5 448v5M512.5 448v5M513.5 448v5M514.5 448v5M516.5 448v5M519.5 448v5M522.5 448v5M524.5 448v5M526.5 448v5M529.5 448v5M531.5 448v5M534.5 448v5M537.5 448v5M539.5 448v5M541.5 448v5M543.5 448v5M545.5 448v5M649.5 448.5h19v4h-19zM685.5 448.5h22v3h-22zM652.5 456.5h12v4h-12zM677.5 456.5h40v3h-40zM498.5 470.5h2v4h-2zM504.5 470v5M506.5 470v5M509.5 470v5M510.5 470v5M511.5 470v5M513.5 470v5M515.5 470v5M517.5 470v5M520.5 470v5M522.5 470v5M525.5 470v5M528.5 470v5M530.5 470v5M533.5 470v5M534.5 470v5M535.5 470v5M537.5 470v5M538.5 470v5M540.5 470v5M543.5 470v5M545.5 470v5M649.5 470.5h19v4h-19zM685.5 470.5h22v3h-22zM652.5 478.5h12v4h-12zM681.5 478.5h31v3h-31zM504.5 485v5M506.5 485v5M509.5 485v5M510.5 485v5M511.5 485v5M514.5 485v5M516.5 485v5M519.5 485v5M521.5 485v5M522.5 485v5M524.5 485v5M525.5 485v5M526.5 485v5M528.5 485v5M531.5 485v5M533.5 485v5M534.5 485v5M535.5 485v5M538.5 485v5M541.5 485v5M543.5 485v5M498.5 500.5h2v4h-2zM504.5 500v5M507.5 500v5M509.5 500v5M511.5 500v5M514.5 500v5M516.5 500v5M518.5 500v5M521.5 500v5M524.5 500v5M526.5 500v5M529.5 500v5M531.5 500v5M533.5 500v5M535.5 500v5M538.5 500v5M539.5 500v5M541.5 500v5M543.5 500v5M545.5 500v5M548.5 500v5M550.5 500v5M552.5 500v5M555.5 500v5M558.5 500v5M560.5 500v5M562.5 500v5M565.5 500v5M567.5 500v5M570.5 500v5M573.5 500v5M575.5 500v5M577.5 500v5M580.5 500v5M582.5 500v5M585.5 500v5M588.5 500v5M590.5 500v5M592.5 500v5M595.5 500v5M596.5 500v5M597.5 500v5M600.5 500v5M601.5 500v5M603.5 500v5M605.5 500v5M608.5 500v5M610.5 500v5M613.5 500v5M616.5 500v5M618.5 500v5M621.5 500v5M623.5 500v5M626.5 500v5M649.5 500.5h19v4h-19zM685.5 500.5h22v3h-22zM652.5 508.5h12v4h-12zM678.5 508.5h38v3h-38zM498.5 522.5h2v4h-2zM504.5 522v5M507.5 522v5M509.5 522v5M511.5 522v5M514.5 522v5M516.5 522v5M519.5 522v5M522.5 522v5M524.5 522v5M525.5 522v5M527.5 522v5M529.5 522v5M531.5 522v5M533.5 522v5M535.5 522v5M537.5 522v5M539.5 522v5M542.5 522v5M545.5 522v5M547.5 522v5M549.5 522v5M552.5 522v5M554.5 522v5M557.5 522v5M560.5 522v5M562.5 522v5M565.5 522v5M567.5 522v5M570.5 522v5M573.5 522v5M575.5 522v5M576.5 522v5M578.5 522v5M580.5 522v5M582.5 522v5M583.5 522v5M585.5 522v5M587.5 522v5M649.5 522.5h19v4h-19zM685.5 522.5h22v3h-22zM652.5 530.5h12v4h-12zM681.5 530.5h31v3h-31zM504.5 537v5M507.5 537v5M509.5 537v5M512.5 537v5M514.5 537v5M516.5 537v5M519.5 537v5M522.5 537v5M524.5 537v5M526.5 537v5M529.5 537v5M531.5 537v5M534.5 537v5M537.5 537v5M539.5 537v5M541.5 537v5M544.5 537v5M546.5 537v5M548.5 537v5M549.5 537v5M550.5 537v5M552.5 537v5M555.5 537v5M558.5 537v5M560.5 537v5M563.5 537v5M565.5 537v5M567.5 537v5M570.5 537v5M573.5 537v5M575.5 537v5M498.5 552.5h2v4h-2zM504.5 552v5M506.5 552v5M510.5 552v5M513.5 552v5M516.5 552v5M517.5 552v5M519.5 552v5M649.5 552.5h19v4h-19zM681.5 552.5h31v3h-31zM652.5 560.5h12v4h-12zM677.5 560.5h40v3h-40zM498.5 574.5h2v5h-2zM504.5 574v6M507.5 574v6M509.5 574v6M511.5 574v6M513.5 574v6M516.5 574v6M518.5 574v6M520.5 574v6M523.5 574v6M526.5 574v6M528.5 574v6M531.5 574v6M533.5 574v6M534.5 574v6M536.5 574v6M537.5 574v6M539.5 574v6M541.5 574v6M544.5 574v6M546.5 574v6M547.5 574v6M549.5 574v6M552.5 574v6M554.5 574v6M557.5 574v6M559.5 574v6M562.5 574v6M565.5 574v6M567.5 574v6M569.5 574v6M572.5 574v6M574.5 574v6M577.5 574v6M580.5 574v6M582.5 574v6M584.5 574v6M587.5 574v6M589.5 574v6M591.5 574v6M593.5 574v6M594.5 574v6M596.5 574v6M599.5 574v6M601.5 574v6M604.5 574v6M606.5 574v6M609.5 574v6M610.5 574v6M612.5 574v6M753 502.5h37M753 509.5h37M791.5 504.5h7v4h-7zM504.5 588v18M513.5 588v18M536.5 588v18M553.5 588v18M570.5 588v18M579.5 588v18M588.5 588v18M611.5 588v18M628.5 588v18M645.5 588v18M495 594.5h151M495 600.5h151M645 597.5h155M675.5 588v18M706.5 588v18M737.5 588v18M768.5 588v18M651.5 590.5h18v5h-18zM681.5 590.5h19v5h-19zM710.5 590.5h23v5h-23zM743.5 590.5h19v5h-19zM775.5 590.5h16v5h-16zM781.5 599.5h2v4h-2zM880.5 372.5h336v239h-336zM888.5 526.5h11v6h-11zM888.5 542.5h11v6h-11zM888.5 558.5h11v6h-11zM888.5 574.5h11v7h-11zM880 525.5h29M880 533.5h29M880 541.5h29M880 549.5h29M880 557.5h29M880 565.5h29M880 573.5h29M880 582.5h29M880 589.5h29M880 597.5h29M880 605.5h29M908.5 378.5h303v227h-303zM908 397.5h304M908 404.5h304M908 412.5h304M908 581.5h304M908 588.5h304M1040 387.5h172M937.5 378v20M951.5 378v20M972.5 378v20M1040.5 378v20M1066.5 378v20M1104.5 378v20M1127.5 378v20M1154.5 378v20M1166.5 378v20M1188.5 378v20M922.5 397v16M945.5 397v16M967.5 397v16M990.5 397v16M1007.5 397v16M1045.5 397v16M1062.5 397v16M1078.5 397v16M1096.5 397v16M1116.5 397v16M1135.5 397v16M1158.5 397v16M954.5 384.5h15v6h-15zM1045.5 380.5h17v5h-17zM1081.5 379.5h8v6h-8zM1070.5 390.5h30v4h-30zM1108.5 380.5h15v5h-15zM1108.5 389.5h15v6h-15zM1130.5 380.5h20v4h-20zM1131.5 389.5h19v5h-19zM1158.5 390.5h2v4h-2zM1167.5 380.5h4v5h-4zM1174.5 381.5h4v4h-4zM1182.5 380.5h4v5h-4zM1166.5 389.5h11v6h-11zM1178.5 390.5h4v4h-4zM1182.5 389.5h4v6h-4zM1190.5 380.5h4v5h-4zM1199.5 381.5h2v4h-2zM1205.5 380.5h3v5h-3zM1188.5 389.5h9v6h-9zM1200.5 390.5h2v4h-2zM1205.5 389.5h3v6h-3zM909 385.5h3M915 385.5h1M918 385.5h1M920 385.5h1M922 385.5h1M924 385.5h1M926 385.5h4M931 385.5h3M909 386.5h3M913 386.5h6M920 386.5h7M928 386.5h2M931 386.5h1M909 387.5h3M913 387.5h6M920 387.5h10M931 387.5h1M909 388.5h3M913 388.5h1M915 388.5h15M931 388.5h1M909 389.5h3M913 389.5h1M915 389.5h1M917 389.5h1M919 389.5h4M924 389.5h1M926 389.5h5M943 386.5h2M947 386.5h1M941 387.5h5M947 387.5h1M941 388.5h5M947 388.5h1M941 389.5h5M947 389.5h2M975 382.5h1M977 382.5h3M982 382.5h1M985 382.5h2M989 382.5h1M1012 382.5h2M1017 382.5h6M1026 382.5h1M1032 382.5h1M1034 382.5h1M975 383.5h1M977 383.5h3M982 383.5h1M985 383.5h3M989 383.5h1M992 383.5h3M996 383.5h6M1003 383.5h6M1010 383.5h6M1017 383.5h6M1026 383.5h4M1032 383.5h1M1034 383.5h2M974 384.5h4M979 384.5h1M981 384.5h14M998 384.5h1M1005 384.5h2M1010 384.5h6M1017 384.5h6M1026 384.5h2M1032 384.5h5M975 385.5h1M977 385.5h1M979 385.5h1M982 385.5h1M984 385.5h4M989 385.5h6M998 385.5h1M1005 385.5h1M1010 385.5h1M1012 385.5h3M1017 385.5h4M1022 385.5h1M1024 385.5h6M1032 385.5h5M974 386.5h4M979 386.5h1M981 386.5h7M989 386.5h6M998 386.5h1M1005 386.5h1M1010 386.5h1M1012 386.5h3M1017 386.5h6M1024 386.5h6M1032 386.5h1M974 387.5h4M979 387.5h1M981 387.5h6M989 387.5h6M998 387.5h1M1005 387.5h1M1010 387.5h6M1017 387.5h6M1026 387.5h3M1031 387.5h5M974 388.5h2M977 388.5h1M979 388.5h8M988 388.5h7M998 388.5h1M1005 388.5h1M1010 388.5h1M1013 388.5h3M1017 388.5h4M1022 388.5h1M1026 388.5h4M1031 388.5h2M1035 388.5h1M975 389.5h3M979 389.5h2M982 389.5h29M1013 389.5h1M1017 389.5h6M1026 389.5h2M1029 389.5h1M1031 389.5h1M1035 389.5h1M975 390.5h2M979 390.5h2M982 390.5h2M985 390.5h4M990 390.5h1M992 390.5h3M1009 390.5h1M1012 390.5h2M1017 390.5h6M1026 390.5h2M1031 390.5h1M1035 390.5h1M911.5 399.5h8v3h-8zM928.5 399.5h10v3h-10zM949.5 399.5h13v3h-13zM973.5 398.5h12v4h-12zM1019.5 398.5h10v4h-10zM1048.5 399.5h10v3h-10zM1064.5 398.5h12v4h-12zM1080.5 399.5h14v3h-14zM1177.5 398.5h14v3h-14zM1080 400.5h15M914.5 406.5h2v3h-2zM926.5 406.5h15v4h-15zM945.5 406.5h22v4h-22zM974.5 406.5h9v4h-9zM1020.5 407.5h12v2h-12zM1050.5 406.5h6v4h-6zM1067.5 407.5h7v2h-7zM1078.5 406.5h18v2h-18zM1096.5 407.5h19v2h-19zM1078 410.5h19M1096 411.5h20M921.5 581v8M937.5 583.5h16v3h-16zM968.5 582v6M974.5 583.5h14v3h-14zM1000 585.5h13M1018.5 583.5h17v3h-17zM1050 585.5h13M1065.5 583.5h5v3h-5zM1081.5 582v6M917.5 588v18M926.5 588v18M949.5 588v18M966.5 588v18M983.5 588v18M992.5 588v18M1001.5 588v18M1024.5 588v18M1041.5 588v18M1058.5 588v18M908 594.5h151M908 600.5h151M1058 597.5h153M1088.5 588v18M1119.5 588v18M1148.5 588v18M1179.5 588v18M1064.5 590.5h18v5h-18zM1094.5 590.5h19v5h-19zM1123.5 590.5h21v5h-21zM1154.5 590.5h19v5h-19zM1186.5 590.5h16v5h-16zM1192.5 599.5h2v4h-2zM975.5 451v81M1108.5 451v81M975 454.5h134M1035.5 450.5h13v3h-13zM940 492.5h169M1006 493.5h72M940 542.5h172M941.5 492v51M950.5 492v39M958.5 492v38M972.5 531v12M1111.5 531v12M964 512.5h114M955 529.5h18M947 531.5h128M1006.5 484v29M1077.5 484v29M1006 486.5h72M1034.5 481.5h15v4h-15zM1009.5 512v20M1074.5 512v20M1012.5 531v12M1071.5 531v12M1009 527.5h66M1032.5 523.5h20v4h-20zM990.5 476.5h21v6h-21zM992.5 477v5M993.5 477v5M996 479.5h10M996 480.5h10M1007.5 477v5M1009.5 478v4M987.5 479v13M987 479.5h4M1018.5 496.5h22v6h-22zM1020.5 497v5M1021.5 497v5M1024 499.5h11M1024 500.5h11M1036.5 497v5M1038.5 498v4M1006 499.5h13M1044.5 514.5h22v6h-22zM1046.5 515v5M1047.5 515v5M1050 517.5h11M1050 518.5h11M1062.5 515v5M1064.5 516v4M1066 517.5h9M998.5 482v6M1021.5 520.5h3v3h-3zM1058.5 495.5h13v3h-13zM1058 497.5h14M1053.5 505.5h11v3h-11zM937.5 510.5h3v14h-3zM947.5 509.5h2v4h-2zM954.5 505.5h3v10h-3zM964.5 495.5h3v14h-3zM1113.5 481.5h11v3h-11zM1120 451.5h6M1121 452.5h5M1134.5 472v44M1136.5 497v19M1135.5 507v9M1128 473.5h17M1135.5 472.5h9v3h-9zM1120 500.5h22M1122.5 496.5h6v3h-6zM1135 517.5h43M1170.5 510.5h9v3h-9zM1174.5 505v13M1146.5 508v22M1142.5 522.5h4v7h-4zM1130 540.5h11M1134.5 536.5h6v4h-6zM1292.5 372.5h337v239h-337zM1300.5 526.5h11v6h-11zM1300.5 542.5h11v6h-11zM1300.5 558.5h11v6h-11zM1300.5 574.5h11v6h-11zM1292 525.5h29M1292 533.5h29M1292 541.5h29M1292 549.5h29M1292 557.5h29M1292 565.5h29M1292 573.5h29M1292 581.5h29M1292 589.5h29M1292 597.5h29M1292 605.5h29M1474 580.5h151M1320.5 378.5h304v227h-304zM1320 397.5h305M1320 404.5h305M1320 412.5h305M1455 387.5h170M1348.5 378v20M1363.5 378v20M1383.5 378v20M1455.5 378v20M1480.5 378v20M1514.5 378v20M1537.5 378v20M1567.5 378v20M1579.5 378v20M1601.5 378v20M1334.5 397v16M1356.5 397v16M1379.5 397v16M1402.5 397v16M1418.5 397v16M1452.5 397v16M1469.5 397v16M1481.5 397v16M1497.5 397v16M1514.5 397v16M1537.5 397v16M1555.5 397v16M1607.5 397v16M1334.5 412v169M1356.5 412v169M1370.5 412v169M1407.5 412v169M1429.5 412v169M1454.5 412v169M1469.5 412v169M1474.5 412v169M1487.5 412v169M1510.5 412v169M1524.5 412v169M1561.5 412v169M1584.5 412v169M1609.5 412v169M1320 588.5h305M1352.5 385.5h8v5h-8zM1366.5 385.5h15v5h-15zM1461.5 380.5h15v5h-15zM1494.5 380.5h7v5h-7zM1482.5 390.5h31v4h-31zM1518.5 380.5h15v6h-15zM1518.5 390.5h15v5h-15zM1541.5 381.5h22v4h-22zM1542.5 390.5h20v5h-20zM1572.5 390.5h2v4h-2zM1580.5 380.5h3v5h-3zM1588.5 381.5h4v4h-4zM1595.5 380.5h4v5h-4zM1579.5 389.5h11v6h-11zM1591.5 390.5h2v4h-2zM1595.5 389.5h4v6h-4zM1603.5 380.5h4v5h-4zM1612.5 381.5h2v4h-2zM1618.5 380.5h4v5h-4zM1601.5 389.5h9v6h-9zM1618.5 389.5h4v6h-4zM1614.5 390v5M1615.5 390v5M1321 385.5h3M1327 385.5h1M1330 385.5h1M1332 385.5h1M1334 385.5h1M1336 385.5h1M1338 385.5h4M1343 385.5h3M1321 386.5h3M1325 386.5h6M1332 386.5h7M1340 386.5h2M1343 386.5h1M1321 387.5h3M1325 387.5h6M1332 387.5h10M1343 387.5h1M1321 388.5h3M1325 388.5h1M1327 388.5h15M1343 388.5h1M1321 389.5h3M1325 389.5h1M1327 389.5h1M1329 389.5h1M1331 389.5h4M1336 389.5h1M1338 389.5h5M1387 385.5h1M1389 385.5h1M1392 385.5h1M1395 385.5h1M1398 385.5h1M1416 385.5h1M1420 385.5h4M1426 385.5h1M1428 385.5h1M1431 385.5h1M1433 385.5h2M1436 385.5h5M1450 385.5h1M1386 386.5h5M1392 386.5h10M1403 386.5h4M1409 386.5h4M1414 386.5h5M1420 386.5h3M1426 386.5h3M1431 386.5h4M1436 386.5h5M1444 386.5h2M1448 386.5h1M1450 386.5h1M1386 387.5h3M1390 387.5h1M1392 387.5h4M1398 387.5h4M1405 387.5h1M1410 387.5h1M1414 387.5h4M1420 387.5h4M1425 387.5h5M1431 387.5h4M1436 387.5h5M1443 387.5h2M1448 387.5h4M1386 388.5h3M1390 388.5h1M1392 388.5h5M1398 388.5h4M1405 388.5h1M1410 388.5h1M1414 388.5h1M1416 388.5h2M1420 388.5h4M1426 388.5h3M1431 388.5h4M1436 388.5h5M1442 388.5h4M1448 388.5h1M1386 389.5h3M1390 389.5h1M1392 389.5h4M1399 389.5h3M1405 389.5h1M1410 389.5h1M1414 389.5h5M1420 389.5h4M1426 389.5h4M1431 389.5h4M1437 389.5h4M1444 389.5h2M1448 389.5h3M1387 390.5h2M1390 390.5h6M1397 390.5h1M1399 390.5h3M1403 390.5h4M1409 390.5h4M1414 390.5h1M1416 390.5h1M1419 390.5h1M1421 390.5h3M1426 390.5h3M1431 390.5h4M1436 390.5h2M1439 390.5h1M1445 390.5h1M1447 390.5h1M1387 391.5h2M1390 391.5h1M1392 391.5h1M1395 391.5h4M1400 391.5h2M1416 391.5h1M1421 391.5h1M1423 391.5h1M1425 391.5h5M1431 391.5h4M1438 391.5h3M1447 391.5h1M1323.5 399.5h8v3h-8zM1340.5 399.5h9v3h-9zM1362.5 399.5h12v3h-12zM1385.5 399.5h12v3h-12zM1429.5 399.5h10v3h-10zM1454.5 399.5h10v3h-10zM1470.5 399.5h9v3h-9zM1482.5 399.5h13v3h-13zM1499.5 399.5h13v3h-13zM1519.5 399.5h13v3h-13zM1540.5 399.5h13v3h-13zM1568.5 399.5h13v2h-13zM1611.5 400.5h8v2h-8zM1402 399.5h17M1402 401.5h17M1337.5 406.5h15v3h-15zM1357.5 406.5h21v4h-21zM1386.5 406.5h8v3h-8zM1429.5 407.5h12v2h-12zM1458.5 407.5h5v2h-5zM1471.5 406.5h7v3h-7zM1481.5 407.5h15v2h-15zM1499.5 407.5h14v2h-14zM1326.5 406v4M1327.5 406v4M1324.5 416.5h7v5h-7zM1411.5 416.5h16v5h-16zM1456.5 416.5h12v5h-12zM1477.5 416.5h8v5h-8zM1566.5 416.5h15v5h-15zM1611.5 416.5h11v5h-11zM1326.5 426.5h2v4h-2zM1337.5 426.5h16v4h-16zM1362.5 426.5h2v4h-2zM1379.5 426.5h18v4h-18zM1410.5 426.5h16v4h-16zM1436.5 426.5h12v3h-12zM1458.5 426.5h8v3h-8zM1478.5 426.5h4v4h-4zM1495.5 426.5h7v4h-7zM1516.5 426.5h2v4h-2zM1531.5 426.5h24v4h-24zM1567.5 426.5h11v4h-11zM1593.5 426.5h7v3h-7zM1612.5 426.5h8v3h-8zM1326.5 441.5h2v4h-2zM1337.5 441.5h16v4h-16zM1362.5 441.5h2v4h-2zM1376.5 441.5h25v3h-25zM1407.5 440.5h22v5h-22zM1435.5 441.5h14v3h-14zM1458.5 441.5h8v3h-8zM1478.5 441.5h4v4h-4zM1493.5 441.5h11v4h-11zM1516.5 441.5h2v4h-2zM1539.5 441.5h6v4h-6zM1563.5 441.5h19v4h-19zM1326.5 456.5h2v4h-2zM1337.5 456.5h16v4h-16zM1362.5 456.5h2v4h-2zM1378.5 456.5h21v4h-21zM1407.5 455.5h22v5h-22zM1435.5 456.5h14v3h-14zM1458.5 456.5h8v3h-8zM1326.5 470.5h2v4h-2zM1337.5 470.5h16v4h-16zM1362.5 470.5h2v4h-2zM1385.5 470.5h6v3h-6zM1412.5 470.5h12v4h-12zM1436.5 470.5h12v3h-12zM1458.5 470.5h8v3h-8zM1326.5 485.5h2v4h-2zM1337.5 485.5h16v4h-16zM1362.5 485.5h2v4h-2zM1379.5 485.5h19v4h-19zM1412.5 485.5h12v4h-12zM1436.5 485.5h12v3h-12zM1458.5 485.5h8v3h-8zM1326.5 500.5h2v4h-2zM1341.5 500.5h8v4h-8zM1362.5 500.5h2v4h-2zM1378.5 500.5h21v4h-21zM1410.5 500.5h16v4h-16zM1436.5 500.5h12v3h-12zM1458.5 500.5h8v3h-8zM1326.5 515.5h2v4h-2zM1341.5 515.5h8v4h-8zM1362.5 515.5h2v4h-2zM1380.5 515.5h17v3h-17zM1414.5 515.5h8v4h-8zM1326.5 530.5h2v4h-2zM1341.5 530.5h8v4h-8zM1362.5 530.5h2v4h-2zM1380.5 530.5h17v3h-17zM1414.5 530.5h8v4h-8zM1326.5 545.5h2v4h-2zM1334.5 544.5h22v5h-22zM1362.5 545.5h2v4h-2zM1384.5 545.5h8v3h-8zM1407.5 544.5h22v5h-22zM1325.5 560.5h4v4h-4zM1341.5 560.5h8v4h-8zM1362.5 560.5h2v4h-2zM1383.5 560.5h11v3h-11zM1407.5 559.5h22v5h-22zM1325.5 575.5h4v4h-4zM1338.5 575.5h14v4h-14zM1362.5 575.5h2v4h-2zM1384.5 575.5h8v3h-8zM1407.5 574.5h22v5h-22zM1329.5 588v18M1338.5 588v18M1361.5 588v18M1378.5 588v18M1395.5 588v18M1404.5 588v18M1413.5 588v18M1436.5 588v18M1453.5 588v18M1470.5 588v18M1320 594.5h151M1320 600.5h151M1470 597.5h155M1500.5 588v18M1531.5 588v18M1562.5 588v18M1593.5 588v18M1476.5 590.5h18v5h-18zM1506.5 590.5h19v5h-19zM1535.5 590.5h23v5h-23zM1568.5 590.5h19v5h-19zM1600.5 590.5h16v5h-16zM1606.5 599.5h2v4h-2zM55.5 699.5h336v238h-336zM63.5 853.5h11v6h-11zM63.5 869.5h11v6h-11zM63.5 885.5h11v6h-11zM63.5 901.5h11v6h-11zM55 852.5h29M55 860.5h29M55 868.5h29M55 876.5h29M55 884.5h29M55 892.5h29M55 900.5h29M55 908.5h29M55 915.5h29M55 923.5h29M55 931.5h29M83.5 705.5h303v226h-303zM83 724.5h304M83 731.5h304M83 739.5h304M83 914.5h304M207 714.5h180M111.5 705v20M126.5 705v20M146.5 705v20M207.5 705v20M233.5 705v20M273.5 705v20M296.5 705v20M329.5 705v20M341.5 705v20M363.5 705v20M97.5 724v16M119.5 724v16M142.5 724v16M165.5 724v16M182.5 724v16M208.5 724v16M219.5 724v16M233.5 724v16M253.5 724v16M278.5 724v16M300.5 724v16M323.5 724v16M366.5 724v16M91.5 739v176M233.5 739v176M259.5 739v176M310.5 739v176M323.5 739v176M340.5 739v176M376.5 739v176M331.5 745v170M115.5 712.5h8v5h-8zM129.5 711.5h15v6h-15zM213.5 707.5h16v5h-16zM249.5 707.5h8v5h-8zM238.5 717.5h30v4h-30zM278.5 707.5h14v5h-14zM278.5 716.5h14v6h-14zM302.5 707.5h21v4h-21zM303.5 716.5h19v6h-19zM334.5 717.5h2v4h-2zM342.5 707.5h4v5h-4zM349.5 708.5h4v4h-4zM357.5 707.5h4v5h-4zM341.5 716.5h11v6h-11zM353.5 717.5h4v4h-4zM357.5 716.5h4v6h-4zM365.5 707.5h4v5h-4zM380.5 707.5h4v5h-4zM363.5 716.5h9v6h-9zM375.5 717.5h2v4h-2zM380.5 716.5h4v6h-4zM374.5 708v4M375.5 708v4M84 712.5h3M90 712.5h1M93 712.5h1M95 712.5h1M97 712.5h1M99 712.5h1M101 712.5h4M106 712.5h3M84 713.5h3M88 713.5h6M95 713.5h7M103 713.5h2M106 713.5h1M84 714.5h3M88 714.5h6M95 714.5h10M106 714.5h1M84 715.5h3M88 715.5h1M90 715.5h15M106 715.5h1M84 716.5h3M88 716.5h1M90 716.5h1M92 716.5h1M94 716.5h4M99 716.5h1M101 716.5h5M151 712.5h1M153 712.5h1M156 712.5h1M159 712.5h1M161 712.5h1M178 712.5h1M180 712.5h1M183 712.5h1M185 712.5h2M188 712.5h1M190 712.5h2M195 712.5h1M199 712.5h1M201 712.5h1M150 713.5h4M156 713.5h4M161 713.5h5M167 713.5h4M172 713.5h4M177 713.5h8M186 713.5h1M188 713.5h1M190 713.5h1M195 713.5h2M199 713.5h1M201 713.5h1M150 714.5h3M156 714.5h4M161 714.5h3M165 714.5h1M168 714.5h1M178 714.5h1M180 714.5h1M183 714.5h4M188 714.5h4M195 714.5h1M199 714.5h4M150 715.5h3M156 715.5h4M161 715.5h3M165 715.5h1M168 715.5h1M178 715.5h3M182 715.5h5M188 715.5h4M193 715.5h5M199 715.5h1M150 716.5h3M155 716.5h5M161 716.5h3M165 716.5h1M168 716.5h1M178 716.5h1M183 716.5h1M185 716.5h1M188 716.5h1M190 716.5h2M195 716.5h2M199 716.5h3M151 717.5h2M154 717.5h1M156 717.5h4M161 717.5h5M167 717.5h4M172 717.5h4M177 717.5h1M181 717.5h5M188 717.5h1M190 717.5h2M195 717.5h1M197 717.5h1M199 717.5h1M151 718.5h1M154 718.5h1M156 718.5h1M158 718.5h2M161 718.5h2M164 718.5h2M178 718.5h3M182 718.5h1M184 718.5h1M186 718.5h1M188 718.5h1M190 718.5h3M195 718.5h1M198 718.5h1M86.5 726.5h8v3h-8zM102.5 726.5h10v3h-10zM124.5 726.5h13v3h-13zM146.5 726.5h13v4h-13zM166.5 725.5h15v4h-15zM190.5 726.5h10v4h-10zM209.5 726.5h9v3h-9zM221.5 726.5h11v3h-11zM235.5 726.5h14v3h-14zM258.5 726.5h14v3h-14zM282.5 726.5h14v3h-14zM305.5 726.5h14v3h-14zM342.5 726.5h14v3h-14zM372.5 727.5h7v2h-7zM166 726.5h16M100.5 733.5h15v4h-15zM120.5 733.5h21v4h-21zM149.5 733.5h9v4h-9zM189.5 734.5h12v2h-12zM211.5 733.5h5v4h-5zM222.5 734.5h7v2h-7zM235.5 734.5h16v3h-16zM255.5 734.5h21v2h-21zM89.5 733v4M90.5 733v4M84.5 743.5h6v3h-6zM152.5 742.5h45v6h-45zM238.5 742.5h15v6h-15zM276.5 742.5h15v5h-15zM325.5 746.5h4v3h-4zM333.5 746.5h5v3h-5zM378.5 740v11M381.5 740v11M378 743.5h4M378 746.5h4M86.5 753.5h2v4h-2zM92.5 753v5M94.5 753v5M97.5 753v5M99.5 753v5M102.5 753v5M104.5 753v5M107.5 753v5M109.5 753v5M112.5 753v5M114.5 753v5M116.5 753v5M118.5 753v5M121.5 753v5M123.5 753v5M126.5 753v5M128.5 753v5M130.5 753v5M132.5 753v5M135.5 753v5M137.5 753v5M140.5 753v5M141.5 753v5M142.5 753v5M145.5 753v5M147.5 753v5M150.5 753v5M152.5 753v5M154.5 753v5M155.5 753v5M157.5 753v5M159.5 753v5M161.5 753v5M164.5 753v5M167.5 753v5M169.5 753v5M172.5 753v5M174.5 753v5M177.5 753v5M180.5 753v5M182.5 753v5M185.5 753v5M187.5 753v5M189.5 753v5M191.5 753v5M193.5 753v5M196.5 753v5M198.5 753v5M201.5 753v5M203.5 753v5M206.5 753v5M208.5 753v5M210.5 753v5M213.5 753v5M215.5 753v5M218.5 753v5M220.5 753v5M223.5 753v5M225.5 753v5M92.5 760v5M94.5 760v5M97.5 760v5M99.5 760v5M101.5 760v5M102.5 760v5M104.5 760v5M106.5 760v5M109.5 760v5M112.5 760v5M114.5 760v5M116.5 760v5M117.5 760v5M119.5 760v5M121.5 760v5M124.5 760v5M125.5 760v5M127.5 760v5M129.5 760v5M132.5 760v5M134.5 760v5M137.5 760v5M140.5 760v5M142.5 760v5M144.5 760v5M147.5 760v5M149.5 760v5M152.5 760v5M155.5 760v5M157.5 760v5M159.5 760v5M162.5 760v5M163.5 760v5M164.5 760v5M167.5 760v5M170.5 760v5M86.5 775.5h2v4h-2zM92.5 775v5M95.5 775v5M97.5 775v5M100.5 775v5M101.5 775v5M102.5 775v5M104.5 775v5M107.5 775v5M110.5 775v5M112.5 775v5M114.5 775v5M117.5 775v5M119.5 775v5M122.5 775v5M125.5 775v5M127.5 775v5M129.5 775v5M131.5 775v5M133.5 775v5M135.5 775v5M138.5 775v5M140.5 775v5M143.5 775v5M146.5 775v5M148.5 775v5M151.5 775v5M236.5 775.5h19v4h-19zM273.5 775.5h22v3h-22zM242.5 783.5h7v4h-7zM264.5 783.5h40v3h-40zM86.5 790.5h2v4h-2zM92.5 790v5M95.5 790v5M97.5 790v5M99.5 790v5M100.5 790v5M101.5 790v5M104.5 790v5M106.5 790v5M109.5 790v5M112.5 790v5M113.5 790v5M114.5 790v5M116.5 790v5M119.5 790v5M121.5 790v5M124.5 790v5M125.5 790v5M126.5 790v5M129.5 790v5M131.5 790v5M133.5 790v5M135.5 790v5M236.5 790.5h19v4h-19zM273.5 790.5h22v3h-22zM240.5 797.5h11v4h-11zM268.5 797.5h31v3h-31zM86.5 812.5h2v4h-2zM92.5 812v5M94.5 812v5M97.5 812v5M98.5 812v5M99.5 812v5M102.5 812v5M104.5 812v5M107.5 812v5M109.5 812v5M110.5 812v5M112.5 812v5M113.5 812v5M114.5 812v5M116.5 812v5M119.5 812v5M121.5 812v5M122.5 812v5M123.5 812v5M126.5 812v5M129.5 812v5M131.5 812v5M134.5 812v5M136.5 812v5M139.5 812v5M141.5 812v5M144.5 812v5M146.5 812v5M148.5 812v5M150.5 812v5M151.5 812v5M153.5 812v5M155.5 812v5M157.5 812v5M160.5 812v5M163.5 812v5M164.5 812v5M165.5 812v5M167.5 812v5M170.5 812v5M171.5 812v5M172.5 812v5M175.5 812v5M177.5 812v5M180.5 812v5M182.5 812v5M184.5 812v5M186.5 812v5M189.5 812v5M191.5 812v5M194.5 812v5M197.5 812v5M199.5 812v5M202.5 812v5M203.5 812v5M204.5 812v5M207.5 812v5M236.5 812.5h19v4h-19zM273.5 812.5h22v3h-22zM240.5 820.5h11v4h-11zM265.5 820.5h37v3h-37zM86.5 849.5h2v4h-2zM92.5 849v5M95.5 849v5M97.5 849v5M99.5 849v5M102.5 849v5M104.5 849v5M107.5 849v5M110.5 849v5M112.5 849v5M113.5 849v5M115.5 849v5M117.5 849v5M119.5 849v5M121.5 849v5M123.5 849v5M125.5 849v5M127.5 849v5M130.5 849v5M133.5 849v5M135.5 849v5M137.5 849v5M140.5 849v5M142.5 849v5M145.5 849v5M148.5 849v5M150.5 849v5M153.5 849v5M155.5 849v5M158.5 849v5M161.5 849v5M163.5 849v5M164.5 849v5M166.5 849v5M168.5 849v5M170.5 849v5M171.5 849v5M173.5 849v5M175.5 849v5M178.5 849v5M180.5 849v5M182.5 849v5M184.5 849v5M186.5 849v5M188.5 849v5M191.5 849v5M193.5 849v5M196.5 849v5M236.5 849.5h19v4h-19zM273.5 849.5h22v3h-22zM240.5 857.5h11v4h-11zM268.5 857.5h31v3h-31zM86.5 872.5h2v4h-2zM92.5 872v5M95.5 872v5M98.5 872v5M102.5 872v5M105.5 872v5M106.5 872v5M238.5 872.5h14v4h-14zM268.5 872.5h31v3h-31zM240.5 879.5h11v4h-11zM264.5 879.5h40v3h-40zM340 829.5h37M340 836.5h37M378.5 831.5h7v4h-7zM92.5 914v18M101.5 914v18M124.5 914v18M141.5 914v18M158.5 914v18M167.5 914v18M176.5 914v18M199.5 914v18M216.5 914v18M233.5 914v18M83 920.5h151M83 926.5h151M233 923.5h154M263.5 914v18M294.5 914v18M324.5 914v18M355.5 914v18M239.5 916.5h18v5h-18zM269.5 916.5h19v5h-19zM298.5 916.5h22v5h-22zM330.5 916.5h19v5h-19zM362.5 916.5h16v5h-16zM368.5 925.5h2v4h-2zM467.5 699.5h337v238h-337zM475.5 853.5h11v6h-11zM475.5 869.5h11v6h-11zM475.5 885.5h11v6h-11zM475.5 901.5h11v6h-11zM467 852.5h29M467 860.5h29M467 868.5h29M467 876.5h29M467 884.5h29M467 892.5h29M467 900.5h29M467 908.5h29M467 915.5h29M467 923.5h29M467 931.5h29M495.5 705.5h304v226h-304zM495 724.5h305M495 731.5h305M495 739.5h305M495 907.5h305M495 914.5h305M627 714.5h173M524.5 705v20M538.5 705v20M559.5 705v20M627.5 705v20M653.5 705v20M691.5 705v20M714.5 705v20M742.5 705v20M754.5 705v20M776.5 705v20M509.5 724v16M532.5 724v16M554.5 724v16M577.5 724v16M594.5 724v16M632.5 724v16M649.5 724v16M665.5 724v16M683.5 724v16M703.5 724v16M722.5 724v16M746.5 724v16M541.5 711.5h15v6h-15zM632.5 707.5h17v5h-17zM668.5 706.5h8v6h-8zM657.5 717.5h30v4h-30zM695.5 707.5h15v5h-15zM695.5 716.5h15v6h-15zM717.5 707.5h21v4h-21zM718.5 716.5h20v5h-20zM746.5 717.5h2v4h-2zM755.5 707.5h4v5h-4zM762.5 708.5h4v4h-4zM770.5 707.5h4v5h-4zM754.5 716.5h11v6h-11zM766.5 717.5h4v4h-4zM770.5 716.5h4v6h-4zM778.5 707.5h4v5h-4zM787.5 708.5h2v4h-2zM793.5 707.5h3v5h-3zM776.5 716.5h9v6h-9zM788.5 717.5h2v4h-2zM793.5 716.5h3v6h-3zM496 712.5h3M502 712.5h1M505 712.5h1M507 712.5h1M509 712.5h1M511 712.5h1M513 712.5h4M518 712.5h3M496 713.5h3M500 713.5h6M507 713.5h7M515 713.5h2M518 713.5h1M496 714.5h3M500 714.5h6M507 714.5h10M518 714.5h1M496 715.5h3M500 715.5h1M502 715.5h15M518 715.5h1M496 716.5h3M500 716.5h1M502 716.5h1M504 716.5h1M506 716.5h4M511 716.5h1M513 716.5h5M530 713.5h2M534 713.5h1M528 714.5h5M534 714.5h1M528 715.5h5M534 715.5h1M528 716.5h5M534 716.5h2M562 709.5h1M564 709.5h3M569 709.5h1M572 709.5h2M576 709.5h1M599 709.5h2M604 709.5h6M613 709.5h1M619 709.5h1M621 709.5h1M562 710.5h1M564 710.5h3M569 710.5h1M572 710.5h3M576 710.5h1M579 710.5h3M583 710.5h6M590 710.5h6M597 710.5h6M604 710.5h6M613 710.5h4M619 710.5h1M621 710.5h2M561 711.5h4M566 711.5h1M568 711.5h14M585 711.5h1M592 711.5h2M597 711.5h6M604 711.5h6M613 711.5h2M619 711.5h5M562 712.5h1M564 712.5h1M566 712.5h1M569 712.5h1M571 712.5h4M576 712.5h6M585 712.5h1M592 712.5h1M597 712.5h1M599 712.5h3M604 712.5h4M609 712.5h1M611 712.5h6M619 712.5h5M561 713.5h4M566 713.5h1M568 713.5h7M576 713.5h6M585 713.5h1M592 713.5h1M597 713.5h1M599 713.5h3M604 713.5h6M611 713.5h6M619 713.5h1M561 714.5h4M566 714.5h1M568 714.5h6M576 714.5h6M585 714.5h1M592 714.5h1M597 714.5h6M604 714.5h6M613 714.5h3M618 714.5h5M561 715.5h2M564 715.5h1M566 715.5h8M575 715.5h7M585 715.5h1M592 715.5h1M597 715.5h1M600 715.5h3M604 715.5h4M609 715.5h1M613 715.5h4M618 715.5h2M622 715.5h1M562 716.5h3M566 716.5h2M569 716.5h29M600 716.5h1M604 716.5h6M613 716.5h2M616 716.5h1M618 716.5h1M622 716.5h1M562 717.5h2M566 717.5h2M569 717.5h2M572 717.5h4M577 717.5h1M579 717.5h3M596 717.5h1M599 717.5h2M604 717.5h6M613 717.5h2M618 717.5h1M622 717.5h1M498.5 726.5h8v3h-8zM515.5 726.5h10v3h-10zM536.5 726.5h13v3h-13zM560.5 725.5h12v4h-12zM606.5 725.5h10v4h-10zM635.5 726.5h10v3h-10zM651.5 725.5h12v4h-12zM667.5 726.5h14v3h-14zM765.5 725.5h14v3h-14zM667 727.5h15M501.5 733.5h2v3h-2zM513.5 733.5h15v4h-15zM532.5 733.5h22v4h-22zM561.5 733.5h9v4h-9zM607.5 734.5h12v2h-12zM637.5 733.5h6v4h-6zM654.5 734.5h7v2h-7zM665.5 733.5h18v2h-18zM683.5 734.5h19v2h-19zM665 737.5h19M683 738.5h20M508.5 907v8M524.5 909.5h16v3h-16zM555.5 908v6M561.5 909.5h14v3h-14zM587 911.5h13M605.5 909.5h17v3h-17zM637 911.5h13M652.5 909.5h5v3h-5zM668.5 908v6M504.5 914v18M513.5 914v18M536.5 914v18M553.5 914v18M570.5 914v18M579.5 914v18M588.5 914v18M611.5 914v18M628.5 914v18M645.5 914v18M495 920.5h151M495 926.5h151M645 923.5h154M675.5 914v18M706.5 914v18M736.5 914v18M767.5 914v18M651.5 916.5h18v5h-18zM681.5 916.5h19v5h-19zM710.5 916.5h22v5h-22zM742.5 916.5h19v5h-19zM774.5 916.5h16v5h-16zM780.5 925.5h2v4h-2zM551.5 785v77M684.5 785v77M551 788.5h134M611.5 783.5h13v4h-13zM610.5 792.5h15v4h-15zM582 796.5h72M582.5 795v36M653.5 795v36M529 811.5h156M582 812.5h72M529 861.5h156M530.5 811v51M539.5 811v20M536.5 813.5h3v14h-3zM527.5 828.5h3v16h-3zM538 830.5h116M585.5 830v12M650.5 830v12M582 841.5h72M582.5 841v21M653.5 841v21M525.5 788.5h17v5h-17zM527.5 789v4M528.5 789v4M531 790.5h6M538.5 789v4M540.5 790v3M542 791.5h10M560.5 792.5h18v5h-18zM562.5 793v4M563.5 793v4M566 794.5h7M574.5 793v4M576.5 794v3M556 795.5h5M556.5 795v17M593.5 814.5h17v5h-17zM595.5 815v4M596.5 815v4M599 816.5h6M606.5 815v4M608.5 816v3M582 817.5h12M593.5 821v4M594.5 821v4M626.5 822.5h12v2h-12zM626 823.5h13M655.5 800.5h11v3h-11zM689.5 800.5h11v3h-11zM695 790.5h6M696 791.5h5M546 856.5h6M550.5 853v7M715.5 798v44M717.5 823v19M716.5 833v9M709 799.5h18M716.5 798.5h10v3h-10zM701 826.5h23M703.5 822.5h6v3h-6zM716 843.5h44M752.5 836.5h9v3h-9zM756.5 831v13M728.5 834v22M724.5 848.5h4v7h-4zM711 866.5h11M715.5 862.5h6v4h-6zM880.5 699.5h336v238h-336zM888.5 853.5h11v6h-11zM888.5 869.5h11v6h-11zM888.5 885.5h11v6h-11zM888.5 901.5h11v6h-11zM880 852.5h29M880 860.5h29M880 868.5h29M880 876.5h29M880 884.5h29M880 892.5h29M880 900.5h29M880 908.5h29M880 915.5h29M880 923.5h29M880 931.5h29M1062 907.5h150M908.5 705.5h303v226h-303zM908 724.5h304M908 731.5h304M908 739.5h304M1043 714.5h169M936.5 705v20M951.5 705v20M971.5 705v20M1043.5 705v20M1068.5 705v20M1102.5 705v20M1125.5 705v20M1154.5 705v20M1166.5 705v20M1188.5 705v20M922.5 724v16M944.5 724v16M967.5 724v16M990.5 724v16M1006.5 724v16M1040.5 724v16M1057.5 724v16M1069.5 724v16M1085.5 724v16M1102.5 724v16M1125.5 724v16M1142.5 724v16M1194.5 724v16M922.5 739v169M944.5 739v169M958.5 739v169M995.5 739v169M1017.5 739v169M1042.5 739v169M1057.5 739v169M1062.5 739v169M1075.5 739v169M1098.5 739v169M1112.5 739v169M1148.5 739v169M1171.5 739v169M1196.5 739v169M908 914.5h304M940.5 712.5h8v5h-8zM954.5 712.5h15v5h-15zM1049.5 707.5h15v5h-15zM1082.5 707.5h7v5h-7zM1070.5 717.5h31v4h-31zM1106.5 707.5h15v6h-15zM1106.5 717.5h15v5h-15zM1129.5 708.5h21v4h-21zM1130.5 717.5h19v5h-19zM1159.5 717.5h2v4h-2zM1167.5 707.5h3v5h-3zM1175.5 708.5h4v4h-4zM1182.5 707.5h4v5h-4zM1166.5 716.5h11v6h-11zM1178.5 717.5h2v4h-2zM1182.5 716.5h4v6h-4zM1190.5 707.5h4v5h-4zM1199.5 708.5h2v4h-2zM1205.5 707.5h4v5h-4zM1188.5 716.5h9v6h-9zM1205.5 716.5h4v6h-4zM1201.5 717v5M1202.5 717v5M909 712.5h3M915 712.5h1M918 712.5h1M920 712.5h1M922 712.5h1M924 712.5h1M926 712.5h4M931 712.5h3M909 713.5h3M913 713.5h6M920 713.5h7M928 713.5h2M931 713.5h1M909 714.5h3M913 714.5h6M920 714.5h10M931 714.5h1M909 715.5h3M913 715.5h1M915 715.5h15M931 715.5h1M909 716.5h3M913 716.5h1M915 716.5h1M917 716.5h1M919 716.5h4M924 716.5h1M926 716.5h5M975 712.5h1M977 712.5h1M980 712.5h1M983 712.5h1M986 712.5h1M1004 712.5h1M1008 712.5h4M1014 712.5h1M1016 712.5h1M1019 712.5h1M1021 712.5h2M1024 712.5h5M1038 712.5h1M974 713.5h5M980 713.5h10M991 713.5h4M997 713.5h4M1002 713.5h5M1008 713.5h3M1014 713.5h3M1019 713.5h4M1024 713.5h5M1032 713.5h2M1036 713.5h1M1038 713.5h1M974 714.5h3M978 714.5h1M980 714.5h4M986 714.5h4M993 714.5h1M998 714.5h1M1002 714.5h4M1008 714.5h4M1013 714.5h5M1019 714.5h4M1024 714.5h5M1031 714.5h2M1036 714.5h4M974 715.5h3M978 715.5h1M980 715.5h5M986 715.5h4M993 715.5h1M998 715.5h1M1002 715.5h1M1004 715.5h2M1008 715.5h4M1014 715.5h3M1019 715.5h4M1024 715.5h5M1030 715.5h4M1036 715.5h1M974 716.5h3M978 716.5h1M980 716.5h4M987 716.5h3M993 716.5h1M998 716.5h1M1002 716.5h5M1008 716.5h4M1014 716.5h4M1019 716.5h4M1025 716.5h4M1032 716.5h2M1036 716.5h3M975 717.5h2M978 717.5h6M985 717.5h1M987 717.5h3M991 717.5h4M997 717.5h4M1002 717.5h1M1004 717.5h1M1007 717.5h1M1009 717.5h3M1014 717.5h3M1019 717.5h4M1024 717.5h2M1027 717.5h1M1033 717.5h1M1035 717.5h1M975 718.5h2M978 718.5h1M980 718.5h1M983 718.5h4M988 718.5h2M1004 718.5h1M1009 718.5h1M1011 718.5h1M1013 718.5h5M1019 718.5h4M1026 718.5h3M1035 718.5h1M911.5 726.5h8v3h-8zM928.5 726.5h9v3h-9zM950.5 726.5h12v3h-12zM973.5 726.5h12v3h-12zM1017.5 726.5h10v3h-10zM1042.5 726.5h10v3h-10zM1058.5 726.5h9v3h-9zM1070.5 726.5h13v3h-13zM1087.5 726.5h13v3h-13zM1107.5 726.5h13v3h-13zM1128.5 726.5h13v3h-13zM1155.5 726.5h13v2h-13zM1198.5 727.5h8v2h-8zM990 726.5h17M990 728.5h17M925.5 733.5h15v3h-15zM945.5 733.5h21v4h-21zM974.5 733.5h8v3h-8zM1017.5 734.5h12v2h-12zM1046.5 734.5h5v2h-5zM1059.5 733.5h7v3h-7zM1069.5 734.5h15v2h-15zM1087.5 734.5h14v2h-14zM914.5 733v4M915.5 733v4M912.5 743.5h7v5h-7zM999.5 743.5h16v5h-16zM1044.5 743.5h12v5h-12zM1065.5 743.5h8v5h-8zM1153.5 743.5h15v5h-15zM1198.5 743.5h11v5h-11zM914.5 753.5h2v4h-2zM925.5 753.5h16v4h-16zM950.5 753.5h2v4h-2zM967.5 753.5h18v4h-18zM998.5 753.5h16v4h-16zM1024.5 753.5h12v3h-12zM1046.5 753.5h8v3h-8zM1066.5 753.5h4v4h-4zM1083.5 753.5h7v4h-7zM1104.5 753.5h2v4h-2zM1119.5 753.5h23v4h-23zM1154.5 753.5h11v4h-11zM1180.5 753.5h7v3h-7zM1199.5 753.5h8v3h-8zM914.5 768.5h2v4h-2zM925.5 768.5h16v4h-16zM950.5 768.5h2v4h-2zM964.5 768.5h25v3h-25zM995.5 767.5h22v5h-22zM1023.5 768.5h14v3h-14zM1046.5 768.5h8v3h-8zM1066.5 768.5h4v4h-4zM1081.5 768.5h11v4h-11zM1104.5 768.5h2v4h-2zM1127.5 768.5h6v4h-6zM1150.5 768.5h19v4h-19zM914.5 783.5h2v4h-2zM925.5 783.5h16v4h-16zM950.5 783.5h2v4h-2zM966.5 783.5h21v4h-21zM995.5 782.5h22v5h-22zM1023.5 783.5h14v3h-14zM1046.5 783.5h8v3h-8zM914.5 797.5h2v4h-2zM925.5 797.5h16v4h-16zM950.5 797.5h2v4h-2zM973.5 797.5h6v3h-6zM1000.5 797.5h12v4h-12zM1024.5 797.5h12v3h-12zM1046.5 797.5h8v3h-8zM914.5 812.5h2v4h-2zM925.5 812.5h16v4h-16zM950.5 812.5h2v4h-2zM967.5 812.5h19v4h-19zM1000.5 812.5h12v4h-12zM1024.5 812.5h12v3h-12zM1046.5 812.5h8v3h-8zM914.5 827.5h2v4h-2zM929.5 827.5h8v4h-8zM950.5 827.5h2v4h-2zM966.5 827.5h21v4h-21zM998.5 827.5h16v4h-16zM1024.5 827.5h12v3h-12zM1046.5 827.5h8v3h-8zM914.5 842.5h2v4h-2zM929.5 842.5h8v4h-8zM950.5 842.5h2v4h-2zM968.5 842.5h17v3h-17zM1002.5 842.5h8v4h-8zM914.5 857.5h2v4h-2zM929.5 857.5h8v4h-8zM950.5 857.5h2v4h-2zM968.5 857.5h17v3h-17zM1002.5 857.5h8v4h-8zM914.5 872.5h2v4h-2zM922.5 871.5h22v5h-22zM950.5 872.5h2v4h-2zM972.5 872.5h8v3h-8zM995.5 871.5h22v5h-22zM913.5 887.5h4v4h-4zM929.5 887.5h8v4h-8zM950.5 887.5h2v4h-2zM971.5 887.5h11v3h-11zM995.5 886.5h22v5h-22zM913.5 902.5h4v4h-4zM926.5 902.5h14v4h-14zM950.5 902.5h2v4h-2zM972.5 902.5h8v3h-8zM995.5 901.5h22v5h-22zM917.5 914v18M926.5 914v18M949.5 914v18M966.5 914v18M983.5 914v18M992.5 914v18M1001.5 914v18M1024.5 914v18M1041.5 914v18M1058.5 914v18M908 920.5h151M908 926.5h151M1058 923.5h154M1088.5 914v18M1119.5 914v18M1149.5 914v18M1180.5 914v18M1064.5 916.5h18v5h-18zM1094.5 916.5h19v5h-19zM1123.5 916.5h22v5h-22zM1155.5 916.5h19v5h-19zM1187.5 916.5h16v5h-16zM1193.5 925.5h2v4h-2zM1292.5 699.5h337v238h-337zM1300.5 853.5h11v6h-11zM1300.5 869.5h11v6h-11zM1300.5 885.5h11v6h-11zM1300.5 901.5h11v6h-11zM1292 852.5h29M1292 860.5h29M1292 868.5h29M1292 876.5h29M1292 884.5h29M1292 892.5h29M1292 900.5h29M1292 908.5h29M1292 915.5h29M1292 923.5h29M1292 931.5h29M1320.5 705.5h304v226h-304zM1320 724.5h305M1320 731.5h305M1320 739.5h305M1320 914.5h305M1444 714.5h181M1348.5 705v20M1363.5 705v20M1383.5 705v20M1444.5 705v20M1470.5 705v20M1510.5 705v20M1533.5 705v20M1567.5 705v20M1579.5 705v20M1601.5 705v20M1334.5 724v16M1356.5 724v16M1379.5 724v16M1402.5 724v16M1419.5 724v16M1445.5 724v16M1456.5 724v16M1470.5 724v16M1490.5 724v16M1515.5 724v16M1537.5 724v16M1561.5 724v16M1604.5 724v16M1328.5 739v176M1470.5 739v176M1496.5 739v176M1547.5 739v176M1561.5 739v176M1578.5 739v176M1614.5 739v176M1569.5 745v170M1352.5 712.5h8v5h-8zM1366.5 711.5h15v6h-15zM1450.5 707.5h16v5h-16zM1486.5 707.5h8v5h-8zM1475.5 717.5h30v4h-30zM1515.5 707.5h14v5h-14zM1515.5 716.5h14v6h-14zM1539.5 707.5h22v4h-22zM1540.5 716.5h20v6h-20zM1572.5 717.5h2v4h-2zM1580.5 707.5h4v5h-4zM1587.5 708.5h4v4h-4zM1595.5 707.5h4v5h-4zM1579.5 716.5h11v6h-11zM1591.5 717.5h4v4h-4zM1595.5 716.5h4v6h-4zM1603.5 707.5h4v5h-4zM1618.5 707.5h4v5h-4zM1601.5 716.5h9v6h-9zM1613.5 717.5h2v4h-2zM1618.5 716.5h4v6h-4zM1612.5 708v4M1613.5 708v4M1321 712.5h3M1327 712.5h1M1330 712.5h1M1332 712.5h1M1334 712.5h1M1336 712.5h1M1338 712.5h4M1343 712.5h3M1321 713.5h3M1325 713.5h6M1332 713.5h7M1340 713.5h2M1343 713.5h1M1321 714.5h3M1325 714.5h6M1332 714.5h10M1343 714.5h1M1321 715.5h3M1325 715.5h1M1327 715.5h15M1343 715.5h1M1321 716.5h3M1325 716.5h1M1327 716.5h1M1329 716.5h1M1331 716.5h4M1336 716.5h1M1338 716.5h5M1388 712.5h1M1390 712.5h1M1393 712.5h1M1396 712.5h1M1398 712.5h1M1415 712.5h1M1417 712.5h1M1420 712.5h1M1422 712.5h2M1425 712.5h1M1427 712.5h2M1432 712.5h1M1436 712.5h1M1438 712.5h1M1387 713.5h4M1393 713.5h4M1398 713.5h5M1404 713.5h4M1409 713.5h4M1414 713.5h8M1423 713.5h1M1425 713.5h1M1427 713.5h1M1432 713.5h2M1436 713.5h1M1438 713.5h1M1387 714.5h3M1393 714.5h4M1398 714.5h3M1402 714.5h1M1405 714.5h1M1415 714.5h1M1417 714.5h1M1420 714.5h4M1425 714.5h4M1432 714.5h1M1436 714.5h4M1387 715.5h3M1393 715.5h4M1398 715.5h3M1402 715.5h1M1405 715.5h1M1415 715.5h3M1419 715.5h5M1425 715.5h4M1430 715.5h5M1436 715.5h1M1387 716.5h3M1392 716.5h5M1398 716.5h3M1402 716.5h1M1405 716.5h1M1415 716.5h1M1420 716.5h1M1422 716.5h1M1425 716.5h1M1427 716.5h2M1432 716.5h2M1436 716.5h3M1388 717.5h2M1391 717.5h1M1393 717.5h4M1398 717.5h5M1404 717.5h4M1409 717.5h4M1414 717.5h1M1418 717.5h5M1425 717.5h1M1427 717.5h2M1432 717.5h1M1434 717.5h1M1436 717.5h1M1388 718.5h1M1391 718.5h1M1393 718.5h1M1395 718.5h2M1398 718.5h2M1401 718.5h2M1415 718.5h3M1419 718.5h1M1421 718.5h1M1423 718.5h1M1425 718.5h1M1427 718.5h3M1432 718.5h1M1435 718.5h1M1323.5 726.5h8v3h-8zM1339.5 726.5h10v3h-10zM1361.5 726.5h13v3h-13zM1383.5 726.5h13v4h-13zM1403.5 725.5h15v4h-15zM1427.5 726.5h10v4h-10zM1446.5 726.5h9v3h-9zM1458.5 726.5h11v3h-11zM1472.5 726.5h14v3h-14zM1495.5 726.5h14v3h-14zM1519.5 726.5h14v3h-14zM1542.5 726.5h15v3h-15zM1580.5 726.5h14v3h-14zM1610.5 727.5h7v2h-7zM1403 726.5h16M1337.5 733.5h15v4h-15zM1357.5 733.5h21v4h-21zM1386.5 733.5h9v4h-9zM1426.5 734.5h12v2h-12zM1448.5 733.5h5v4h-5zM1459.5 734.5h7v2h-7zM1472.5 734.5h16v3h-16zM1492.5 734.5h21v2h-21zM1326.5 733v4M1327.5 733v4M1321.5 743.5h6v3h-6zM1389.5 742.5h45v6h-45zM1475.5 742.5h15v6h-15zM1513.5 742.5h15v5h-15zM1563.5 746.5h4v3h-4zM1571.5 746.5h5v3h-5zM1616.5 740v11M1619.5 740v11M1616 743.5h4M1616 746.5h4M1323.5 753.5h2v4h-2zM1330.5 753v5M1332.5 753v5M1335.5 753v5M1338.5 753v5M1341.5 753v5M1344.5 753v5M1347.5 753v5M1350.5 753v5M1353.5 753v5M1355.5 753v5M1357.5 753v5M1360.5 753v5M1363.5 753v5M1366.5 753v5M1369.5 753v5M1372.5 753v5M1374.5 753v5M1376.5 753v5M1379.5 753v5M1382.5 753v5M1385.5 753v5M1386.5 753v5M1388.5 753v5M1391.5 753v5M1393.5 753v5M1396.5 753v5M1399.5 753v5M1402.5 753v5M1403.5 753v5M1405.5 753v5M1407.5 753v5M1410.5 753v5M1413.5 753v5M1416.5 753v5M1419.5 753v5M1422.5 753v5M1425.5 753v5M1477.5 753.5h12v4h-12zM1329.5 914v18M1338.5 914v18M1361.5 914v18M1378.5 914v18M1395.5 914v18M1404.5 914v18M1413.5 914v18M1436.5 914v18M1453.5 914v18M1470.5 914v18M1320 920.5h151M1320 926.5h151M1470 923.5h155M1500.5 914v18M1531.5 914v18M1562.5 914v18M1593.5 914v18M1476.5 916.5h18v5h-18zM1506.5 916.5h19v5h-19zM1535.5 916.5h23v5h-23zM1568.5 916.5h19v5h-19zM1600.5 916.5h16v5h-16zM1606.5 925.5h2v4h-2z"/>
<path fill="none" stroke="#00ff00" stroke-width="1" d="M330.5 53.5h10v6h-10zM743.5 53.5h10v6h-10zM1033.5 63.5h24v6h-24zM1155.5 54.5h10v5h-10zM1136.5 89.5h11v6h-11zM1175.5 89.5h16v6h-16zM1453.5 63.5h24v6h-24zM1567.5 54.5h11v5h-11zM1402.5 73.5h17v3h-17zM1511.5 73.5h14v3h-14zM1531.5 73.5h14v3h-14zM1552.5 73.5h14v3h-14zM1323.5 255.5h7v6h-7zM1483.5 255.5h67v6h-67zM219.5 390.5h23v5h-23zM329.5 381.5h11v4h-11zM100.5 416.5h16v5h-16zM120.5 416.5h12v5h-12zM144.5 416.5h15v5h-15zM197.5 416.5h16v5h-16zM254.5 416.5h16v5h-16zM274.5 416.5h12v5h-12zM297.5 416.5h16v5h-16zM351.5 416.5h16v5h-16zM83.5 582.5h52v5h-52zM620.5 389.5h24v6h-24zM743.5 380.5h10v5h-10zM723.5 415.5h12v6h-12zM763.5 415.5h16v6h-16zM1041.5 389.5h24v6h-24zM1154.5 380.5h11v5h-11zM990.5 399.5h17v3h-17zM1099.5 399.5h14v3h-14zM1119.5 399.5h14v3h-14zM1140.5 399.5h13v3h-13zM911.5 582.5h7v5h-7zM1071.5 582.5h67v5h-67zM1456.5 390.5h23v5h-23zM1567.5 381.5h11v4h-11zM1337.5 416.5h16v5h-16zM1357.5 416.5h12v5h-12zM1381.5 416.5h15v5h-15zM1434.5 416.5h16v5h-16zM1491.5 416.5h16v5h-16zM1511.5 416.5h12v5h-12zM1534.5 416.5h16v5h-16zM1589.5 416.5h16v5h-16zM1320.5 582.5h52v5h-52zM208.5 716.5h24v6h-24zM330.5 707.5h10v5h-10zM311.5 742.5h11v6h-11zM350.5 742.5h16v6h-16zM628.5 716.5h24v6h-24zM742.5 707.5h11v5h-11zM577.5 726.5h17v3h-17zM686.5 726.5h14v3h-14zM706.5 726.5h14v3h-14zM727.5 726.5h14v3h-14zM498.5 908.5h7v5h-7zM658.5 908.5h67v5h-67zM1044.5 717.5h23v5h-23zM1154.5 708.5h11v4h-11zM925.5 743.5h16v5h-16zM945.5 743.5h12v5h-12zM969.5 743.5h15v5h-15zM1022.5 743.5h16v5h-16zM1079.5 743.5h16v5h-16zM1099.5 743.5h12v5h-12zM1122.5 743.5h16v5h-16zM1176.5 743.5h16v5h-16zM908.5 909.5h52v4h-52zM1445.5 716.5h24v6h-24zM1568.5 707.5h10v5h-10zM1548.5 742.5h12v6h-12zM1588.5 742.5h16v6h-16z"/>
<path fill="none" stroke="#2f8a8a" stroke-width="1" d="M966.5 534v6M970.5 533v10M966 536.5h5M988 545.5h5M995 545.5h4M992.5 543v3M994.5 543v3M568 864.5h5M575 864.5h4M572.5 862v3M574.5 862v3M686.5 852v6M690.5 851v10M686 855.5h5"/>
<path d="M1340 257L1342.5 260L1346 256.5" stroke="#000000" stroke-width="1" fill="none" shape-rendering="crispEdges"/>
<path d="M1376 258.5L1383 258.5" stroke="#000000" stroke-width="1" fill="none" shape-rendering="crispEdges"/>
<path d="M1365.5 157.7L1370.7 152.5M1365.5 163.3L1376.3 152.5M1365.5 168.9L1381.9 152.5M1365.5 174.5L1387.5 152.5M1365.5 180.1L1387.5 158.1M1365.5 185.7L1387.5 163.7M1368.3 188.5L1387.5 169.3M1373.9 188.5L1387.5 174.9M1379.5 188.5L1387.5 180.5M1385.1 188.5L1387.5 186.1M1438.5 157.5L1443.5 152.5M1438.5 163.1L1449.1 152.5M1438.5 168.7L1454.7 152.5M1438.5 174.3L1460.3 152.5M1438.5 179.9L1461.5 156.9M1438.5 185.5L1461.5 162.5M1441.1 188.5L1461.5 168.1M1446.7 188.5L1461.5 173.7M1452.3 188.5L1461.5 179.3M1457.9 188.5L1461.5 184.9" stroke="#000000" stroke-width="1" fill="none"/>
<path d="M1462 169L1470.5 130" stroke="#000000" stroke-width="1" fill="none" shape-rendering="crispEdges"/>
<path d="M1530.5 112.5L1540.5 133.5" stroke="#000000" stroke-width="1" fill="none" shape-rendering="crispEdges"/>
<circle cx="1545.5" cy="169.5" r="47.2" stroke="#000000" stroke-width="1" fill="none"/>
<circle cx="1545.5" cy="169.5" r="25" stroke="#000000" stroke-width="1" fill="none"/>
<path d="M928 583L930.5 586L934 582.5" stroke="#000000" stroke-width="1" fill="none" shape-rendering="crispEdges"/>
<path d="M964 584.5L971 584.5" stroke="#000000" stroke-width="1" fill="none" shape-rendering="crispEdges"/>
<path d="M975.5 493.5L976.5 492.5M975.5 500L983 492.5M975.5 506.5L989.5 492.5M976 512.5L996 492.5M982.5 512.5L1002.5 492.5M989 512.5L1006.5 495M995.5 512.5L1006.5 501.5M1002 512.5L1006.5 508M975.5 519.5L982.5 512.5M975.5 526L989 512.5M976.5 531.5L995.5 512.5M983 531.5L1002 512.5M989.5 531.5L1008.5 512.5M996 531.5L1009.5 518M1002.5 531.5L1009.5 524.5M972.5 535.5L976.5 531.5M972.5 542L983 531.5M978.5 542.5L989.5 531.5M985 542.5L996 531.5M991.5 542.5L1002.5 531.5M998 542.5L1009 531.5M1004.5 542.5L1012.5 534.5M1011 542.5L1012.5 541M1077.5 495.5L1080.5 492.5M1077.5 502L1087 492.5M1077.5 508.5L1093.5 492.5M1080 512.5L1100 492.5M1086.5 512.5L1106.5 492.5M1093 512.5L1108.5 497M1099.5 512.5L1108.5 503.5M1106 512.5L1108.5 510M1074.5 518L1080 512.5M1074.5 524.5L1086.5 512.5M1074.5 531L1093 512.5M1080.5 531.5L1099.5 512.5M1087 531.5L1106 512.5M1093.5 531.5L1108.5 516.5M1100 531.5L1108.5 523M1106.5 531.5L1108.5 529.5M1071.5 534L1074 531.5M1071.5 540.5L1080.5 531.5M1076 542.5L1087 531.5M1082.5 542.5L1093.5 531.5M1089 542.5L1100 531.5M1095.5 542.5L1106.5 531.5M1102 542.5L1111.5 533M1108.5 542.5L1111.5 539.5" stroke="#000000" stroke-width="1" fill="none"/>
<circle cx="1008.5" cy="511.5" r="7.3" stroke="#000000" stroke-width="1" fill="none"/>
<circle cx="998" cy="484.5" r="2.6" stroke="#000000" stroke-width="1" fill="none"/>
<path d="M1013.5 515.5L1022 523" stroke="#000000" stroke-width="1" fill="none" shape-rendering="crispEdges"/>
<path d="M1071 497.5L1077 493" stroke="#000000" stroke-width="1" fill="none" shape-rendering="crispEdges"/>
<path d="M1064 507L1070 509L1074 512" stroke="#000000" stroke-width="1" fill="none" shape-rendering="crispEdges"/>
<path d="M1108.5 492L1113.5 483.5" stroke="#000000" stroke-width="1" fill="none" shape-rendering="crispEdges"/>
<path d="M1120 449L1126 449L1123 456z" stroke="#000000" stroke-width="1" fill="none" shape-rendering="crispEdges"/>
<path d="M1125.5 452L1130 447" stroke="#000000" stroke-width="1" fill="none" shape-rendering="crispEdges"/>
<circle cx="1134.5" cy="514.5" r="6.8" stroke="#000000" stroke-width="1" fill="none"/>
<path d="M1145.5 473.5L1135.5 512" stroke="#000000" stroke-width="1" fill="none" shape-rendering="crispEdges"/>
<path d="M1146 474L1149 475.5L1151 476.5" stroke="#000000" stroke-width="1" fill="none" shape-rendering="crispEdges"/>
<path d="M1135.5 515.5L1176 505" stroke="#000000" stroke-width="1" fill="none" shape-rendering="crispEdges"/>
<path d="M1133.5 517.5L1125.5 533" stroke="#000000" stroke-width="1" fill="none" shape-rendering="crispEdges"/>
<path d="M1126 525L1129 526.5L1125.5 533.5L1122.5 532z" stroke="#000000" stroke-width="1" fill="none" shape-rendering="crispEdges"/>
<path d="M515 910L517.5 913L521 909.5" stroke="#000000" stroke-width="1" fill="none" shape-rendering="crispEdges"/>
<path d="M551 911.5L558 911.5" stroke="#000000" stroke-width="1" fill="none" shape-rendering="crispEdges"/>
<path d="M551.5 813.5L553.5 811.5M551.5 820.5L560.5 811.5M551.5 827.5L567.5 811.5M555.5 830.5L574.5 811.5M562.5 830.5L581.5 811.5M569.5 830.5L582.5 817.5M576.5 830.5L582.5 824.5M551.5 834.5L555.5 830.5M551.5 841.5L562.5 830.5M558.5 841.5L569.5 830.5M565.5 841.5L576.5 830.5M572.5 841.5L583.5 830.5M579.5 841.5L585.5 835.5M551.5 848.5L558.5 841.5M551.5 855.5L565.5 841.5M552.5 861.5L572.5 841.5M559.5 861.5L579.5 841.5M566.5 861.5L582.5 845.5M573.5 861.5L582.5 852.5M580.5 861.5L582.5 859.5M653.5 816.5L658.5 811.5M653.5 823.5L665.5 811.5M653.5 830.5L672.5 811.5M660.5 830.5L679.5 811.5M667.5 830.5L684.5 813.5M674.5 830.5L684.5 820.5M681.5 830.5L684.5 827.5M650.5 833.5L653.5 830.5M650.5 840.5L660.5 830.5M656.5 841.5L667.5 830.5M663.5 841.5L674.5 830.5M670.5 841.5L681.5 830.5M677.5 841.5L684.5 834.5M653.5 844.5L656.5 841.5M653.5 851.5L663.5 841.5M653.5 858.5L670.5 841.5M657.5 861.5L677.5 841.5M664.5 861.5L684.5 841.5M671.5 861.5L684.5 848.5M678.5 861.5L684.5 855.5" stroke="#000000" stroke-width="1" fill="none"/>
<circle cx="580.5" cy="830.5" r="7.2" stroke="#000000" stroke-width="1" fill="none"/>
<path d="M586 826.5L593.5 824.5" stroke="#000000" stroke-width="1" fill="none" shape-rendering="crispEdges"/>
<path d="M638 824L645 827L650 830" stroke="#000000" stroke-width="1" fill="none" shape-rendering="crispEdges"/>
<path d="M660.5 803L654.5 811" stroke="#000000" stroke-width="1" fill="none" shape-rendering="crispEdges"/>
<path d="M689.5 802L684.5 811" stroke="#000000" stroke-width="1" fill="none" shape-rendering="crispEdges"/>
<path d="M695 788L701 788L698 795z" stroke="#000000" stroke-width="1" fill="none" shape-rendering="crispEdges"/>
<path d="M700.5 791L705 786" stroke="#000000" stroke-width="1" fill="none" shape-rendering="crispEdges"/>
<circle cx="544" cy="856" r="1.8" stroke="#000000" stroke-width="1" fill="none"/>
<circle cx="544" cy="856" r="1" stroke="#000000" stroke-width="1" fill="none"/>
<circle cx="715.5" cy="840.5" r="6.8" stroke="#000000" stroke-width="1" fill="none"/>
<path d="M726.5 799.5L716.5 838" stroke="#000000" stroke-width="1" fill="none" shape-rendering="crispEdges"/>
<path d="M727 800L730 801.5L732 802.5" stroke="#000000" stroke-width="1" fill="none" shape-rendering="crispEdges"/>
<path d="M716.5 841.5L757 831" stroke="#000000" stroke-width="1" fill="none" shape-rendering="crispEdges"/>
<path d="M714.5 843.5L706.5 859" stroke="#000000" stroke-width="1" fill="none" shape-rendering="crispEdges"/>
<path d="M707 851L710 852.5L706.5 859.5L703.5 858z" stroke="#000000" stroke-width="1" fill="none" shape-rendering="crispEdges"/>
</g>
<g><text class="lb" x="15" y="35">1</text><text class="lb" x="421" y="35">1-1</text><text class="lb" x="840.5" y="35">2</text><text class="lb" x="1246.5" y="35">2-1</text><text class="lb" x="9.5" y="361">2-2</text><text class="lb" x="427.5" y="361">3</text><text class="lb" x="834.5" y="361">3-1</text><text class="lb" x="1246.5" y="361">3-2</text><text class="lb" x="15.5" y="688">4</text><text class="lb" x="421.5" y="688">4-1</text><text class="lb" x="834.5" y="688">4-2</text><text class="lb" x="1252.5" y="688">5</text><text class="ca" x="223" y="322">新兴通用工艺过程卡片</text><text class="ca" x="635.5" y="322">新兴通用工艺过程卡片</text><text class="ca" x="1047.5" y="322">新兴通用工艺规程卡片（第2页）(5)</text><text class="ca" x="1460.5" y="322">续1-新兴通用机械加工工序图卡片（首页）</text><text class="ca" x="223" y="649">续2-新兴通用工序质量管理卡片（第3页）</text><text class="ca" x="635" y="649">新兴通用工艺规程卡片（第2页）(10H)</text><text class="ca" x="1048" y="649">续1-新兴通用机械加工工序图卡片（首页）</text><text class="ca" x="1460.5" y="649">续2-新兴通用工序质量管理卡片（第3页）</text><text class="ca" x="222.5" y="976">新兴通用工艺规程卡片（第2页）(15T)</text><text class="ca" x="635.5" y="976">续1-新兴通用机械加工工序图卡片（首页）</text><text class="ca" x="1048" y="976">续2-新兴通用工序质量管理卡片（第3页）</text><text class="ca" x="1460" y="976">新兴通用工艺规程卡片（第2页）(20)</text><g transform="translate(9,41)" shape-rendering="crispEdges"><path d="M3.5 1.5h9l2 2v10h-11z" fill="#fffbe0" stroke="#111"/><path d="M12.5 1.5v2h2" fill="none" stroke="#111"/><rect x="5" y="5" width="8" height="8" fill="#3d4b6e"/><rect x="6" y="6" width="1" height="1" fill="#fff"/><rect x="8" y="6" width="1" height="1" fill="#fff"/><rect x="10" y="6" width="1" height="1" fill="#fff"/><rect x="6" y="9" width="1" height="1" fill="#fff"/><rect x="8" y="9" width="1" height="1" fill="#fff"/><rect x="10" y="9" width="1" height="1" fill="#fff"/><rect x="6" y="11" width="1" height="1" fill="#fff"/><rect x="8" y="11" width="1" height="1" fill="#fff"/><rect x="10" y="11" width="1" height="1" fill="#fff"/><rect x="0" y="3" width="2" height="9" fill="#e8401c"/><path d="M0 3h7v1h3v5h-4v-1h-4z" fill="#ff3b20"/></g><g transform="translate(421,41)" shape-rendering="crispEdges"><path d="M0.5 1.5h9l2 2v10h-11z" fill="#fff" stroke="#111"/><path d="M9.5 1.5v2h2" fill="none" stroke="#111"/><rect x="2" y="5" width="8" height="8" fill="#48557a"/><rect x="3" y="6" width="1" height="1" fill="#fff"/><rect x="5" y="6" width="1" height="1" fill="#fff"/><rect x="7" y="6" width="1" height="1" fill="#fff"/><rect x="3" y="9" width="1" height="1" fill="#fff"/><rect x="5" y="9" width="1" height="1" fill="#fff"/><rect x="7" y="9" width="1" height="1" fill="#fff"/><rect x="3" y="11" width="1" height="1" fill="#fff"/><rect x="5" y="11" width="1" height="1" fill="#fff"/><rect x="7" y="11" width="1" height="1" fill="#fff"/><rect x="7" y="8" width="8" height="2" fill="#4cc35a"/><rect x="10" y="5" width="2" height="8" fill="#4cc35a"/></g><g transform="translate(834,41)" shape-rendering="crispEdges"><rect x="0" y="1" width="12" height="11" fill="#222"/><rect x="1" y="2" width="3" height="3" fill="#aee4ff"/><rect x="5" y="2" width="3" height="3" fill="#aee4ff"/><rect x="9" y="2" width="2" height="3" fill="#aee4ff"/><rect x="1" y="6" width="3" height="2" fill="#fff"/><rect x="5" y="6" width="3" height="2" fill="#fff"/><rect x="9" y="6" width="2" height="2" fill="#fff"/><rect x="1" y="9" width="3" height="2" fill="#fff"/><rect x="5" y="9" width="3" height="2" fill="#fff"/><rect x="9" y="9" width="2" height="2" fill="#fff"/><path d="M4 8h2v-1h2v1h3v6h-6v-3h-1z" fill="#2a48e8"/><rect x="6" y="6" width="1" height="1" fill="#7f9cf5"/><rect x="9.5" y="7.5" width="5" height="6" fill="#fffbd0" stroke="#222"/></g><g transform="translate(1246,41)" shape-rendering="crispEdges"><path d="M0.5 1.5h9l2 2v10h-11z" fill="#fff" stroke="#111"/><path d="M9.5 1.5v2h2" fill="none" stroke="#111"/><rect x="2" y="5" width="8" height="8" fill="#48557a"/><rect x="3" y="6" width="1" height="1" fill="#fff"/><rect x="5" y="6" width="1" height="1" fill="#fff"/><rect x="7" y="6" width="1" height="1" fill="#fff"/><rect x="3" y="9" width="1" height="1" fill="#fff"/><rect x="5" y="9" width="1" height="1" fill="#fff"/><rect x="7" y="9" width="1" height="1" fill="#fff"/><rect x="3" y="11" width="1" height="1" fill="#fff"/><rect x="5" y="11" width="1" height="1" fill="#fff"/><rect x="7" y="11" width="1" height="1" fill="#fff"/><rect x="7" y="8" width="8" height="2" fill="#4cc35a"/><rect x="10" y="5" width="2" height="8" fill="#4cc35a"/></g><g transform="translate(9,367)" shape-rendering="crispEdges"><path d="M0.5 1.5h9l2 2v10h-11z" fill="#fff" stroke="#111"/><path d="M9.5 1.5v2h2" fill="none" stroke="#111"/><rect x="2" y="5" width="8" height="8" fill="#48557a"/><rect x="3" y="6" width="1" height="1" fill="#fff"/><rect x="5" y="6" width="1" height="1" fill="#fff"/><rect x="7" y="6" width="1" height="1" fill="#fff"/><rect x="3" y="9" width="1" height="1" fill="#fff"/><rect x="5" y="9" width="1" height="1" fill="#fff"/><rect x="7" y="9" width="1" height="1" fill="#fff"/><rect x="3" y="11" width="1" height="1" fill="#fff"/><rect x="5" y="11" width="1" height="1" fill="#fff"/><rect x="7" y="11" width="1" height="1" fill="#fff"/><rect x="7" y="8" width="8" height="2" fill="#4cc35a"/><rect x="10" y="5" width="2" height="8" fill="#4cc35a"/></g><g transform="translate(421,367)" shape-rendering="crispEdges"><rect x="0" y="1" width="12" height="11" fill="#222"/><rect x="1" y="2" width="3" height="3" fill="#aee4ff"/><rect x="5" y="2" width="3" height="3" fill="#aee4ff"/><rect x="9" y="2" width="2" height="3" fill="#aee4ff"/><rect x="1" y="6" width="3" height="2" fill="#fff"/><rect x="5" y="6" width="3" height="2" fill="#fff"/><rect x="9" y="6" width="2" height="2" fill="#fff"/><rect x="1" y="9" width="3" height="2" fill="#fff"/><rect x="5" y="9" width="3" height="2" fill="#fff"/><rect x="9" y="9" width="2" height="2" fill="#fff"/><path d="M4 8h2v-1h2v1h3v6h-6v-3h-1z" fill="#2a48e8"/><rect x="6" y="6" width="1" height="1" fill="#7f9cf5"/><rect x="9.5" y="7.5" width="5" height="6" fill="#fffbd0" stroke="#222"/></g><g transform="translate(834,367)" shape-rendering="crispEdges"><path d="M0.5 1.5h9l2 2v10h-11z" fill="#fff" stroke="#111"/><path d="M9.5 1.5v2h2" fill="none" stroke="#111"/><rect x="2" y="5" width="8" height="8" fill="#48557a"/><rect x="3" y="6" width="1" height="1" fill="#fff"/><rect x="5" y="6" width="1" height="1" fill="#fff"/><rect x="7" y="6" width="1" height="1" fill="#fff"/><rect x="3" y="9" width="1" height="1" fill="#fff"/><rect x="5" y="9" width="1" height="1" fill="#fff"/><rect x="7" y="9" width="1" height="1" fill="#fff"/><rect x="3" y="11" width="1" height="1" fill="#fff"/><rect x="5" y="11" width="1" height="1" fill="#fff"/><rect x="7" y="11" width="1" height="1" fill="#fff"/><rect x="7" y="8" width="8" height="2" fill="#4cc35a"/><rect x="10" y="5" width="2" height="8" fill="#4cc35a"/></g><g transform="translate(1246,367)" shape-rendering="crispEdges"><path d="M0.5 1.5h9l2 2v10h-11z" fill="#fff" stroke="#111"/><path d="M9.5 1.5v2h2" fill="none" stroke="#111"/><rect x="2" y="5" width="8" height="8" fill="#48557a"/><rect x="3" y="6" width="1" height="1" fill="#fff"/><rect x="5" y="6" width="1" height="1" fill="#fff"/><rect x="7" y="6" width="1" height="1" fill="#fff"/><rect x="3" y="9" width="1" height="1" fill="#fff"/><rect x="5" y="9" width="1" height="1" fill="#fff"/><rect x="7" y="9" width="1" height="1" fill="#fff"/><rect x="3" y="11" width="1" height="1" fill="#fff"/><rect x="5" y="11" width="1" height="1" fill="#fff"/><rect x="7" y="11" width="1" height="1" fill="#fff"/><rect x="7" y="8" width="8" height="2" fill="#4cc35a"/><rect x="10" y="5" width="2" height="8" fill="#4cc35a"/></g><g transform="translate(9,694)" shape-rendering="crispEdges"><rect x="0" y="1" width="12" height="11" fill="#222"/><rect x="1" y="2" width="3" height="3" fill="#aee4ff"/><rect x="5" y="2" width="3" height="3" fill="#aee4ff"/><rect x="9" y="2" width="2" height="3" fill="#aee4ff"/><rect x="1" y="6" width="3" height="2" fill="#fff"/><rect x="5" y="6" width="3" height="2" fill="#fff"/><rect x="9" y="6" width="2" height="2" fill="#fff"/><rect x="1" y="9" width="3" height="2" fill="#fff"/><rect x="5" y="9" width="3" height="2" fill="#fff"/><rect x="9" y="9" width="2" height="2" fill="#fff"/><path d="M4 8h2v-1h2v1h3v6h-6v-3h-1z" fill="#2a48e8"/><rect x="6" y="6" width="1" height="1" fill="#7f9cf5"/><rect x="9.5" y="7.5" width="5" height="6" fill="#fffbd0" stroke="#222"/></g><g transform="translate(421,694)" shape-rendering="crispEdges"><path d="M0.5 1.5h9l2 2v10h-11z" fill="#fff" stroke="#111"/><path d="M9.5 1.5v2h2" fill="none" stroke="#111"/><rect x="2" y="5" width="8" height="8" fill="#48557a"/><rect x="3" y="6" width="1" height="1" fill="#fff"/><rect x="5" y="6" width="1" height="1" fill="#fff"/><rect x="7" y="6" width="1" height="1" fill="#fff"/><rect x="3" y="9" width="1" height="1" fill="#fff"/><rect x="5" y="9" width="1" height="1" fill="#fff"/><rect x="7" y="9" width="1" height="1" fill="#fff"/><rect x="3" y="11" width="1" height="1" fill="#fff"/><rect x="5" y="11" width="1" height="1" fill="#fff"/><rect x="7" y="11" width="1" height="1" fill="#fff"/><rect x="7" y="8" width="8" height="2" fill="#4cc35a"/><rect x="10" y="5" width="2" height="8" fill="#4cc35a"/></g><g transform="translate(834,694)" shape-rendering="crispEdges"><path d="M0.5 1.5h9l2 2v10h-11z" fill="#fff" stroke="#111"/><path d="M9.5 1.5v2h2" fill="none" stroke="#111"/><rect x="2" y="5" width="8" height="8" fill="#48557a"/><rect x="3" y="6" width="1" height="1" fill="#fff"/><rect x="5" y="6" width="1" height="1" fill="#fff"/><rect x="7" y="6" width="1" height="1" fill="#fff"/><rect x="3" y="9" width="1" height="1" fill="#fff"/><rect x="5" y="9" width="1" height="1" fill="#fff"/><rect x="7" y="9" width="1" height="1" fill="#fff"/><rect x="3" y="11" width="1" height="1" fill="#fff"/><rect x="5" y="11" width="1" height="1" fill="#fff"/><rect x="7" y="11" width="1" height="1" fill="#fff"/><rect x="7" y="8" width="8" height="2" fill="#4cc35a"/><rect x="10" y="5" width="2" height="8" fill="#4cc35a"/></g><g transform="translate(1246,694)" shape-rendering="crispEdges"><rect x="0" y="1" width="12" height="11" fill="#222"/><rect x="1" y="2" width="3" height="3" fill="#aee4ff"/><rect x="5" y="2" width="3" height="3" fill="#aee4ff"/><rect x="9" y="2" width="2" height="3" fill="#aee4ff"/><rect x="1" y="6" width="3" height="2" fill="#fff"/><rect x="5" y="6" width="3" height="2" fill="#fff"/><rect x="9" y="6" width="2" height="2" fill="#fff"/><rect x="1" y="9" width="3" height="2" fill="#fff"/><rect x="5" y="9" width="3" height="2" fill="#fff"/><rect x="9" y="9" width="2" height="2" fill="#fff"/><path d="M4 8h2v-1h2v1h3v6h-6v-3h-1z" fill="#2a48e8"/><rect x="6" y="6" width="1" height="1" fill="#7f9cf5"/><rect x="9.5" y="7.5" width="5" height="6" fill="#fffbd0" stroke="#222"/></g></g>
</svg>
</body></html>
